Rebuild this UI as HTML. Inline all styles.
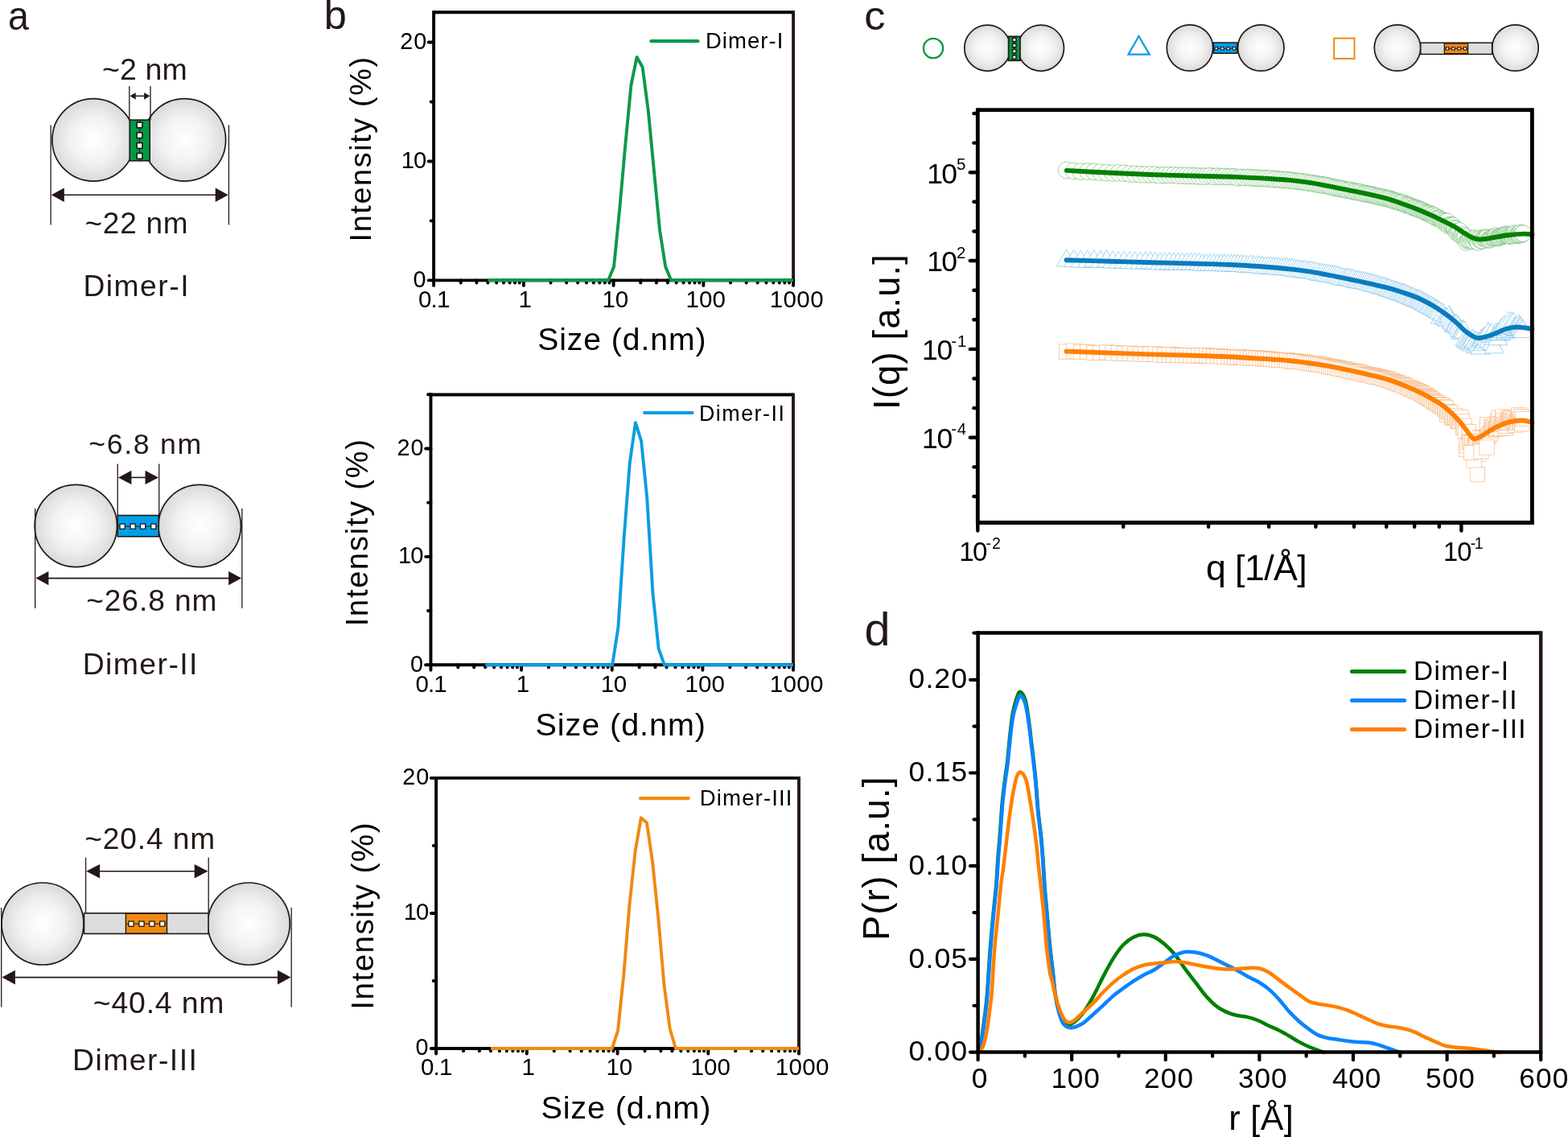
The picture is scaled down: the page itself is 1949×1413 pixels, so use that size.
<!DOCTYPE html><html><head><meta charset="utf-8"><title>Figure</title><style>html,body{margin:0;padding:0;background:#fff;width:1949px;height:1413px;overflow:hidden}text{font-family:"Liberation Sans",Arial,sans-serif;font-kerning:none;white-space:pre}</style></head><body><svg width="1949" height="1413" viewBox="0 0 1949 1413" style="display:block">
<defs><radialGradient id="gball" cx="0.5" cy="0.5" r="0.5"><stop offset="0" stop-color="#ffffff"/><stop offset="0.55" stop-color="#f2f2f2"/><stop offset="1" stop-color="#d9dada"/></radialGradient></defs>
<rect width="1949" height="1413" fill="#fff"/>
<g font-family="Liberation Sans, Arial, sans-serif" style="font-kerning:none">
<text transform="translate(10.12,36.5) scale(0.9238,1)" x="0" y="0" font-size="50.36" fill="#231815">a</text>
<circle cx="116.1" cy="173.9" r="51.2" fill="url(#gball)" stroke="#231815" stroke-width="1.7"/>
<circle cx="229.4" cy="173.9" r="51.2" fill="url(#gball)" stroke="#231815" stroke-width="1.7"/>
<rect x="161.2" y="149.1" width="25" height="50.7" fill="#009a44" stroke="#231815" stroke-width="1.6"/>
<line x1="173.5" y1="148.6" x2="173.5" y2="200.7" stroke="#231815" stroke-width="1" stroke-linecap="butt"/>
<rect x="170.1" y="152" width="6.8" height="6.8" fill="#fff" stroke="#231815" stroke-width="1.6"/>
<rect x="170.1" y="164.8" width="6.8" height="6.8" fill="#fff" stroke="#231815" stroke-width="1.6"/>
<rect x="170.1" y="177.6" width="6.8" height="6.8" fill="#fff" stroke="#231815" stroke-width="1.6"/>
<rect x="170.1" y="190.5" width="6.8" height="6.8" fill="#fff" stroke="#231815" stroke-width="1.6"/>
<line x1="63.1" y1="155.4" x2="63.1" y2="279.4" stroke="#231815" stroke-width="1.3" stroke-linecap="butt"/>
<line x1="284.4" y1="155.4" x2="284.4" y2="279.4" stroke="#231815" stroke-width="1.3" stroke-linecap="butt"/>
<line x1="76.6" y1="242.2" x2="270.9" y2="242.2" stroke="#231815" stroke-width="1.6" stroke-linecap="butt"/>
<path d="M63.8,242.2 L79.8,233.4 L79.8,251 Z" fill="#231815"/>
<path d="M283.7,242.2 L267.7,233.4 L267.7,251 Z" fill="#231815"/>
<line x1="160.8" y1="107" x2="160.8" y2="149" stroke="#231815" stroke-width="1.3" stroke-linecap="butt"/>
<line x1="187" y1="107" x2="187" y2="149" stroke="#231815" stroke-width="1.3" stroke-linecap="butt"/>
<line x1="167.26" y1="119.3" x2="180.54" y2="119.3" stroke="#231815" stroke-width="1.5" stroke-linecap="butt"/>
<path d="M161.5,119.3 L168.7,114.9 L168.7,123.7 Z" fill="#231815"/>
<path d="M186.3,119.3 L179.1,114.9 L179.1,123.7 Z" fill="#231815"/>
<text x="127.01" y="98.8" font-size="37.52" letter-spacing="0.13" fill="#231815">~2 nm</text>
<text x="105.54" y="289.8" font-size="36.95" letter-spacing="0.74" fill="#231815">~22 nm</text>
<text x="103.45" y="367.9" font-size="37.21" letter-spacing="1.52" fill="#231815">Dimer-I</text>
<circle cx="94.3" cy="653.5" r="51.2" fill="url(#gball)" stroke="#231815" stroke-width="1.7"/>
<circle cx="248.2" cy="653.5" r="51.2" fill="url(#gball)" stroke="#231815" stroke-width="1.7"/>
<rect x="146.2" y="640.5" width="51.1" height="26.3" fill="#00a0e9" stroke="#231815" stroke-width="1.6"/>
<line x1="147" y1="654.2" x2="196.5" y2="654.2" stroke="#231815" stroke-width="1" stroke-linecap="butt"/>
<rect x="149" y="651.1" width="6.2" height="6.2" fill="#fff" stroke="#231815" stroke-width="1.3"/>
<rect x="162" y="651.1" width="6.2" height="6.2" fill="#fff" stroke="#231815" stroke-width="1.3"/>
<rect x="174.5" y="651.1" width="6.2" height="6.2" fill="#fff" stroke="#231815" stroke-width="1.3"/>
<rect x="187.7" y="651.1" width="6.2" height="6.2" fill="#fff" stroke="#231815" stroke-width="1.3"/>
<line x1="43.7" y1="631.9" x2="43.7" y2="755.9" stroke="#231815" stroke-width="1.3" stroke-linecap="butt"/>
<line x1="300.8" y1="631.9" x2="300.8" y2="755.9" stroke="#231815" stroke-width="1.3" stroke-linecap="butt"/>
<line x1="57.2" y1="718.6" x2="287.3" y2="718.6" stroke="#231815" stroke-width="1.6" stroke-linecap="butt"/>
<path d="M44.4,718.6 L60.4,709.9 L60.4,727.3 Z" fill="#231815"/>
<path d="M300.1,718.6 L284.1,709.9 L284.1,727.3 Z" fill="#231815"/>
<line x1="146.2" y1="576.6" x2="146.2" y2="640" stroke="#231815" stroke-width="1.3" stroke-linecap="butt"/>
<line x1="197.7" y1="576.6" x2="197.7" y2="640" stroke="#231815" stroke-width="1.3" stroke-linecap="butt"/>
<line x1="160.1" y1="593.4" x2="183.8" y2="593.4" stroke="#231815" stroke-width="1.6" stroke-linecap="butt"/>
<path d="M146.9,593.4 L163.4,584.7 L163.4,602.1 Z" fill="#231815"/>
<path d="M197,593.4 L180.5,584.7 L180.5,602.1 Z" fill="#231815"/>
<text x="110.3" y="563.8" font-size="35.66" letter-spacing="1.67" fill="#231815">~6.8 nm</text>
<text x="107.13" y="759" font-size="37.09" letter-spacing="0.96" fill="#231815">~26.8 nm</text>
<text x="102.64" y="838" font-size="37.36" letter-spacing="1.43" fill="#231815">Dimer-II</text>
<circle cx="53" cy="1148" r="51" fill="url(#gball)" stroke="#231815" stroke-width="1.7"/>
<circle cx="309.3" cy="1148" r="51" fill="url(#gball)" stroke="#231815" stroke-width="1.7"/>
<rect x="104.5" y="1134.9" width="154.5" height="25.5" fill="#dcdddd" stroke="#231815" stroke-width="1.6"/>
<rect x="156.4" y="1135.3" width="51.1" height="24.7" fill="#ee8a10" stroke="#231815" stroke-width="1.4"/>
<line x1="157.2" y1="1148.1" x2="206.7" y2="1148.1" stroke="#231815" stroke-width="1" stroke-linecap="butt"/>
<rect x="159.9" y="1145" width="6.2" height="6.2" fill="#fff" stroke="#231815" stroke-width="1.3"/>
<rect x="172.9" y="1145" width="6.2" height="6.2" fill="#fff" stroke="#231815" stroke-width="1.3"/>
<rect x="185.8" y="1145" width="6.2" height="6.2" fill="#fff" stroke="#231815" stroke-width="1.3"/>
<rect x="198.7" y="1145" width="6.2" height="6.2" fill="#fff" stroke="#231815" stroke-width="1.3"/>
<line x1="1.7" y1="1128" x2="1.7" y2="1251.4" stroke="#231815" stroke-width="1.3" stroke-linecap="butt"/>
<line x1="362.2" y1="1128" x2="362.2" y2="1251.4" stroke="#231815" stroke-width="1.3" stroke-linecap="butt"/>
<line x1="15.6" y1="1214.6" x2="348.3" y2="1214.6" stroke="#231815" stroke-width="1.6" stroke-linecap="butt"/>
<path d="M2.4,1214.6 L18.9,1205.8 L18.9,1223.4 Z" fill="#231815"/>
<path d="M361.5,1214.6 L345,1205.8 L345,1223.4 Z" fill="#231815"/>
<line x1="106.6" y1="1065.8" x2="106.6" y2="1134" stroke="#231815" stroke-width="1.3" stroke-linecap="butt"/>
<line x1="259.2" y1="1065.8" x2="259.2" y2="1134" stroke="#231815" stroke-width="1.3" stroke-linecap="butt"/>
<line x1="120.74" y1="1082.7" x2="245.06" y2="1082.7" stroke="#231815" stroke-width="1.6" stroke-linecap="butt"/>
<path d="M107.3,1082.7 L124.1,1073.9 L124.1,1091.5 Z" fill="#231815"/>
<path d="M258.5,1082.7 L241.7,1073.9 L241.7,1091.5 Z" fill="#231815"/>
<text x="105.23" y="1055.1" font-size="37.09" letter-spacing="0.9" fill="#231815">~20.4 nm</text>
<text x="115.82" y="1259.3" font-size="37.36" letter-spacing="0.82" fill="#231815">~40.4 nm</text>
<text x="89.94" y="1329.7" font-size="37.36" letter-spacing="1.47" fill="#231815">Dimer-III</text>
<text transform="translate(402.85,35.7) scale(1.0104,1)" x="0" y="0" font-size="49.96" fill="#231815">b</text>
<line x1="539.1" y1="15.3" x2="986.1" y2="15.3" stroke="#000000" stroke-width="3.9" stroke-linecap="butt"/>
<line x1="986.1" y1="13.35" x2="986.1" y2="350.35" stroke="#231815" stroke-width="3.9" stroke-linecap="butt"/>
<line x1="539.1" y1="348.4" x2="532.8" y2="348.4" stroke="#000000" stroke-width="3.9" stroke-linecap="round"/>
<line x1="539.1" y1="274.42" x2="535.7" y2="274.42" stroke="#000000" stroke-width="3.9" stroke-linecap="round"/>
<line x1="539.1" y1="200.45" x2="532.8" y2="200.45" stroke="#000000" stroke-width="3.9" stroke-linecap="round"/>
<line x1="539.1" y1="126.47" x2="535.7" y2="126.47" stroke="#000000" stroke-width="3.9" stroke-linecap="round"/>
<line x1="539.1" y1="52.5" x2="532.8" y2="52.5" stroke="#000000" stroke-width="3.9" stroke-linecap="round"/>
<line x1="539.1" y1="348.4" x2="539.1" y2="354.9" stroke="#000000" stroke-width="3.9" stroke-linecap="round"/>
<line x1="572.74" y1="348.4" x2="572.74" y2="351.6" stroke="#000000" stroke-width="3.9" stroke-linecap="round"/>
<line x1="592.42" y1="348.4" x2="592.42" y2="351.6" stroke="#000000" stroke-width="3.9" stroke-linecap="round"/>
<line x1="606.38" y1="348.4" x2="606.38" y2="351.6" stroke="#000000" stroke-width="3.9" stroke-linecap="round"/>
<line x1="617.21" y1="348.4" x2="617.21" y2="351.6" stroke="#000000" stroke-width="3.9" stroke-linecap="round"/>
<line x1="626.06" y1="348.4" x2="626.06" y2="351.6" stroke="#000000" stroke-width="3.9" stroke-linecap="round"/>
<line x1="633.54" y1="348.4" x2="633.54" y2="351.6" stroke="#000000" stroke-width="3.9" stroke-linecap="round"/>
<line x1="640.02" y1="348.4" x2="640.02" y2="351.6" stroke="#000000" stroke-width="3.9" stroke-linecap="round"/>
<line x1="645.74" y1="348.4" x2="645.74" y2="351.6" stroke="#000000" stroke-width="3.9" stroke-linecap="round"/>
<line x1="650.85" y1="348.4" x2="650.85" y2="354.9" stroke="#000000" stroke-width="3.9" stroke-linecap="round"/>
<line x1="684.49" y1="348.4" x2="684.49" y2="351.6" stroke="#000000" stroke-width="3.9" stroke-linecap="round"/>
<line x1="704.17" y1="348.4" x2="704.17" y2="351.6" stroke="#000000" stroke-width="3.9" stroke-linecap="round"/>
<line x1="718.13" y1="348.4" x2="718.13" y2="351.6" stroke="#000000" stroke-width="3.9" stroke-linecap="round"/>
<line x1="728.96" y1="348.4" x2="728.96" y2="351.6" stroke="#000000" stroke-width="3.9" stroke-linecap="round"/>
<line x1="737.81" y1="348.4" x2="737.81" y2="351.6" stroke="#000000" stroke-width="3.9" stroke-linecap="round"/>
<line x1="745.29" y1="348.4" x2="745.29" y2="351.6" stroke="#000000" stroke-width="3.9" stroke-linecap="round"/>
<line x1="751.77" y1="348.4" x2="751.77" y2="351.6" stroke="#000000" stroke-width="3.9" stroke-linecap="round"/>
<line x1="757.49" y1="348.4" x2="757.49" y2="351.6" stroke="#000000" stroke-width="3.9" stroke-linecap="round"/>
<line x1="762.6" y1="348.4" x2="762.6" y2="354.9" stroke="#000000" stroke-width="3.9" stroke-linecap="round"/>
<line x1="796.24" y1="348.4" x2="796.24" y2="351.6" stroke="#000000" stroke-width="3.9" stroke-linecap="round"/>
<line x1="815.92" y1="348.4" x2="815.92" y2="351.6" stroke="#000000" stroke-width="3.9" stroke-linecap="round"/>
<line x1="829.88" y1="348.4" x2="829.88" y2="351.6" stroke="#000000" stroke-width="3.9" stroke-linecap="round"/>
<line x1="840.71" y1="348.4" x2="840.71" y2="351.6" stroke="#000000" stroke-width="3.9" stroke-linecap="round"/>
<line x1="849.56" y1="348.4" x2="849.56" y2="351.6" stroke="#000000" stroke-width="3.9" stroke-linecap="round"/>
<line x1="857.04" y1="348.4" x2="857.04" y2="351.6" stroke="#000000" stroke-width="3.9" stroke-linecap="round"/>
<line x1="863.52" y1="348.4" x2="863.52" y2="351.6" stroke="#000000" stroke-width="3.9" stroke-linecap="round"/>
<line x1="869.24" y1="348.4" x2="869.24" y2="351.6" stroke="#000000" stroke-width="3.9" stroke-linecap="round"/>
<line x1="874.35" y1="348.4" x2="874.35" y2="354.9" stroke="#000000" stroke-width="3.9" stroke-linecap="round"/>
<line x1="907.99" y1="348.4" x2="907.99" y2="351.6" stroke="#000000" stroke-width="3.9" stroke-linecap="round"/>
<line x1="927.67" y1="348.4" x2="927.67" y2="351.6" stroke="#000000" stroke-width="3.9" stroke-linecap="round"/>
<line x1="941.63" y1="348.4" x2="941.63" y2="351.6" stroke="#000000" stroke-width="3.9" stroke-linecap="round"/>
<line x1="952.46" y1="348.4" x2="952.46" y2="351.6" stroke="#000000" stroke-width="3.9" stroke-linecap="round"/>
<line x1="961.31" y1="348.4" x2="961.31" y2="351.6" stroke="#000000" stroke-width="3.9" stroke-linecap="round"/>
<line x1="968.79" y1="348.4" x2="968.79" y2="351.6" stroke="#000000" stroke-width="3.9" stroke-linecap="round"/>
<line x1="975.27" y1="348.4" x2="975.27" y2="351.6" stroke="#000000" stroke-width="3.9" stroke-linecap="round"/>
<line x1="980.99" y1="348.4" x2="980.99" y2="351.6" stroke="#000000" stroke-width="3.9" stroke-linecap="round"/>
<line x1="986.1" y1="348.4" x2="986.1" y2="354.9" stroke="#000000" stroke-width="3.9" stroke-linecap="round"/>
<line x1="539.1" y1="348.4" x2="986.1" y2="348.4" stroke="#000000" stroke-width="3.9" stroke-linecap="butt"/>
<line x1="539.1" y1="13.35" x2="539.1" y2="348.4" stroke="#000000" stroke-width="3.9" stroke-linecap="butt"/>
<path d="M606.38,348.4 L613.5,348.4 L620.63,348.4 L627.75,348.4 L634.87,348.4 L641.99,348.4 L649.12,348.4 L656.24,348.4 L663.36,348.4 L670.48,348.4 L677.61,348.4 L684.73,348.4 L691.85,348.4 L698.98,348.4 L706.1,348.4 L713.22,348.4 L720.34,348.4 L727.47,348.4 L734.59,348.4 L741.71,348.4 L748.84,348.4 L755.96,348.4 L763.08,331.39 L770.2,259.63 L777.33,179.74 L784.45,105.76 L791.57,70.99 L798.69,83.57 L805.82,138.31 L812.94,212.29 L820.06,286.26 L827.19,331.39 L834.31,348.4 L841.43,348.4 L848.55,348.4 L855.68,348.4 L862.8,348.4 L869.92,348.4 L877.04,348.4 L884.17,348.4 L891.29,348.4 L898.41,348.4 L905.54,348.4 L912.66,348.4 L919.78,348.4 L926.9,348.4 L934.03,348.4 L941.15,348.4 L948.27,348.4 L955.39,348.4 L962.52,348.4 L969.64,348.4 L976.76,348.4 L983.89,348.4 L986.1,348.4" fill="none" stroke="#0a9a48" stroke-width="3.9" stroke-linejoin="round" stroke-linecap="butt"/>
<line x1="809.3" y1="51.1" x2="867.6" y2="51.1" stroke="#0a9a48" stroke-width="4.1" stroke-linecap="round"/>
<text x="876.95" y="60" font-size="27.47" letter-spacing="1.06" fill="#000000">Dimer-I</text>
<text x="497.15" y="60.95" font-size="28.79" letter-spacing="1.05" fill="#000000">20</text>
<text x="498.77" y="208.9" font-size="29.22" letter-spacing="-1.03" fill="#000000">10</text>
<text x="513.58" y="356.85" font-size="28.79" letter-spacing="0" fill="#000000">0</text>
<text x="520.05" y="381.7" font-size="29.51" letter-spacing="-0.86" fill="#000000">0.1</text>
<text x="644.55" y="381.7" font-size="29.51" letter-spacing="0" fill="#000000">1</text>
<text x="748.55" y="381.7" font-size="29.51" letter-spacing="-0.22" fill="#000000">10</text>
<text x="852.45" y="381.7" font-size="29.51" letter-spacing="0.14" fill="#000000">100</text>
<text x="956.75" y="381.7" font-size="29.51" letter-spacing="0.39" fill="#000000">1000</text>
<text transform="rotate(-90)" x="-300.49" y="461.3" font-size="37.79" letter-spacing="1.63" fill="#000000">Intensity (%)</text>
<text x="668.22" y="434.9" font-size="39.1" letter-spacing="0.94" fill="#000000">Size (d.nm)</text>
<line x1="535.45" y1="490.5" x2="986" y2="490.5" stroke="#000000" stroke-width="3.9" stroke-linecap="butt"/>
<line x1="986" y1="488.55" x2="986" y2="828.15" stroke="#231815" stroke-width="3.9" stroke-linecap="butt"/>
<line x1="535.45" y1="826.2" x2="529.15" y2="826.2" stroke="#000000" stroke-width="3.9" stroke-linecap="round"/>
<line x1="535.45" y1="759.03" x2="532.05" y2="759.03" stroke="#000000" stroke-width="3.9" stroke-linecap="round"/>
<line x1="535.45" y1="691.85" x2="529.15" y2="691.85" stroke="#000000" stroke-width="3.9" stroke-linecap="round"/>
<line x1="535.45" y1="624.67" x2="532.05" y2="624.67" stroke="#000000" stroke-width="3.9" stroke-linecap="round"/>
<line x1="535.45" y1="557.5" x2="529.15" y2="557.5" stroke="#000000" stroke-width="3.9" stroke-linecap="round"/>
<line x1="535.45" y1="490.32" x2="532.05" y2="490.32" stroke="#000000" stroke-width="3.9" stroke-linecap="round"/>
<line x1="535.45" y1="826.2" x2="535.45" y2="832.7" stroke="#000000" stroke-width="3.9" stroke-linecap="round"/>
<line x1="569.36" y1="826.2" x2="569.36" y2="829.4" stroke="#000000" stroke-width="3.9" stroke-linecap="round"/>
<line x1="589.19" y1="826.2" x2="589.19" y2="829.4" stroke="#000000" stroke-width="3.9" stroke-linecap="round"/>
<line x1="603.26" y1="826.2" x2="603.26" y2="829.4" stroke="#000000" stroke-width="3.9" stroke-linecap="round"/>
<line x1="614.18" y1="826.2" x2="614.18" y2="829.4" stroke="#000000" stroke-width="3.9" stroke-linecap="round"/>
<line x1="623.1" y1="826.2" x2="623.1" y2="829.4" stroke="#000000" stroke-width="3.9" stroke-linecap="round"/>
<line x1="630.64" y1="826.2" x2="630.64" y2="829.4" stroke="#000000" stroke-width="3.9" stroke-linecap="round"/>
<line x1="637.17" y1="826.2" x2="637.17" y2="829.4" stroke="#000000" stroke-width="3.9" stroke-linecap="round"/>
<line x1="642.93" y1="826.2" x2="642.93" y2="829.4" stroke="#000000" stroke-width="3.9" stroke-linecap="round"/>
<line x1="648.09" y1="826.2" x2="648.09" y2="832.7" stroke="#000000" stroke-width="3.9" stroke-linecap="round"/>
<line x1="681.99" y1="826.2" x2="681.99" y2="829.4" stroke="#000000" stroke-width="3.9" stroke-linecap="round"/>
<line x1="701.83" y1="826.2" x2="701.83" y2="829.4" stroke="#000000" stroke-width="3.9" stroke-linecap="round"/>
<line x1="715.9" y1="826.2" x2="715.9" y2="829.4" stroke="#000000" stroke-width="3.9" stroke-linecap="round"/>
<line x1="726.82" y1="826.2" x2="726.82" y2="829.4" stroke="#000000" stroke-width="3.9" stroke-linecap="round"/>
<line x1="735.74" y1="826.2" x2="735.74" y2="829.4" stroke="#000000" stroke-width="3.9" stroke-linecap="round"/>
<line x1="743.28" y1="826.2" x2="743.28" y2="829.4" stroke="#000000" stroke-width="3.9" stroke-linecap="round"/>
<line x1="749.81" y1="826.2" x2="749.81" y2="829.4" stroke="#000000" stroke-width="3.9" stroke-linecap="round"/>
<line x1="755.57" y1="826.2" x2="755.57" y2="829.4" stroke="#000000" stroke-width="3.9" stroke-linecap="round"/>
<line x1="760.73" y1="826.2" x2="760.73" y2="832.7" stroke="#000000" stroke-width="3.9" stroke-linecap="round"/>
<line x1="794.63" y1="826.2" x2="794.63" y2="829.4" stroke="#000000" stroke-width="3.9" stroke-linecap="round"/>
<line x1="814.47" y1="826.2" x2="814.47" y2="829.4" stroke="#000000" stroke-width="3.9" stroke-linecap="round"/>
<line x1="828.54" y1="826.2" x2="828.54" y2="829.4" stroke="#000000" stroke-width="3.9" stroke-linecap="round"/>
<line x1="839.46" y1="826.2" x2="839.46" y2="829.4" stroke="#000000" stroke-width="3.9" stroke-linecap="round"/>
<line x1="848.37" y1="826.2" x2="848.37" y2="829.4" stroke="#000000" stroke-width="3.9" stroke-linecap="round"/>
<line x1="855.91" y1="826.2" x2="855.91" y2="829.4" stroke="#000000" stroke-width="3.9" stroke-linecap="round"/>
<line x1="862.45" y1="826.2" x2="862.45" y2="829.4" stroke="#000000" stroke-width="3.9" stroke-linecap="round"/>
<line x1="868.21" y1="826.2" x2="868.21" y2="829.4" stroke="#000000" stroke-width="3.9" stroke-linecap="round"/>
<line x1="873.36" y1="826.2" x2="873.36" y2="832.7" stroke="#000000" stroke-width="3.9" stroke-linecap="round"/>
<line x1="907.27" y1="826.2" x2="907.27" y2="829.4" stroke="#000000" stroke-width="3.9" stroke-linecap="round"/>
<line x1="927.1" y1="826.2" x2="927.1" y2="829.4" stroke="#000000" stroke-width="3.9" stroke-linecap="round"/>
<line x1="941.18" y1="826.2" x2="941.18" y2="829.4" stroke="#000000" stroke-width="3.9" stroke-linecap="round"/>
<line x1="952.09" y1="826.2" x2="952.09" y2="829.4" stroke="#000000" stroke-width="3.9" stroke-linecap="round"/>
<line x1="961.01" y1="826.2" x2="961.01" y2="829.4" stroke="#000000" stroke-width="3.9" stroke-linecap="round"/>
<line x1="968.55" y1="826.2" x2="968.55" y2="829.4" stroke="#000000" stroke-width="3.9" stroke-linecap="round"/>
<line x1="975.08" y1="826.2" x2="975.08" y2="829.4" stroke="#000000" stroke-width="3.9" stroke-linecap="round"/>
<line x1="980.85" y1="826.2" x2="980.85" y2="829.4" stroke="#000000" stroke-width="3.9" stroke-linecap="round"/>
<line x1="986" y1="826.2" x2="986" y2="832.7" stroke="#000000" stroke-width="3.9" stroke-linecap="round"/>
<line x1="535.45" y1="826.2" x2="986" y2="826.2" stroke="#000000" stroke-width="3.9" stroke-linecap="butt"/>
<line x1="535.45" y1="488.55" x2="535.45" y2="826.2" stroke="#000000" stroke-width="3.9" stroke-linecap="butt"/>
<path d="M603.26,826.2 L610.44,826.2 L617.62,826.2 L624.8,826.2 L631.98,826.2 L639.16,826.2 L646.34,826.2 L653.52,826.2 L660.7,826.2 L667.88,826.2 L675.06,826.2 L682.24,826.2 L689.42,826.2 L696.6,826.2 L703.77,826.2 L710.95,826.2 L718.13,826.2 L725.31,826.2 L732.49,826.2 L739.67,826.2 L746.85,826.2 L754.03,826.2 L761.21,826.2 L768.39,779.85 L775.57,669.01 L782.75,575.64 L789.93,525.26 L797.11,548.1 L804.29,619.3 L811.46,737.53 L818.64,806.05 L825.82,826.2 L833,826.2 L840.18,826.2 L847.36,826.2 L854.54,826.2 L861.72,826.2 L868.9,826.2 L876.08,826.2 L883.26,826.2 L890.44,826.2 L897.62,826.2 L904.8,826.2 L911.98,826.2 L919.15,826.2 L926.33,826.2 L933.51,826.2 L940.69,826.2 L947.87,826.2 L955.05,826.2 L962.23,826.2 L969.41,826.2 L976.59,826.2 L983.77,826.2 L986,826.2" fill="none" stroke="#0a9ee0" stroke-width="3.9" stroke-linejoin="round" stroke-linecap="butt"/>
<line x1="801" y1="513" x2="860.6" y2="513" stroke="#0a9ee0" stroke-width="4.1" stroke-linecap="round"/>
<text x="868.89" y="522.7" font-size="26.89" letter-spacing="1.5" fill="#000000">Dimer-II</text>
<text x="493.5" y="565.95" font-size="28.79" letter-spacing="1.05" fill="#000000">20</text>
<text x="495.12" y="700.3" font-size="29.22" letter-spacing="-1.03" fill="#000000">10</text>
<text x="509.93" y="834.65" font-size="28.79" letter-spacing="0" fill="#000000">0</text>
<text x="516.4" y="859.5" font-size="29.51" letter-spacing="-0.86" fill="#000000">0.1</text>
<text x="641.79" y="859.5" font-size="29.51" letter-spacing="0" fill="#000000">1</text>
<text x="746.68" y="859.5" font-size="29.51" letter-spacing="-0.22" fill="#000000">10</text>
<text x="851.46" y="859.5" font-size="29.51" letter-spacing="0.14" fill="#000000">100</text>
<text x="956.65" y="859.5" font-size="29.51" letter-spacing="0.39" fill="#000000">1000</text>
<text transform="rotate(-90)" x="-778.3" y="456.8" font-size="37.94" letter-spacing="1.79" fill="#000000">Intensity (%)</text>
<text x="665.51" y="913.6" font-size="39.53" letter-spacing="0.94" fill="#000000">Size (d.nm)</text>
<line x1="542.1" y1="966.9" x2="993" y2="966.9" stroke="#000000" stroke-width="3.9" stroke-linecap="butt"/>
<line x1="993" y1="964.95" x2="993" y2="1304.95" stroke="#231815" stroke-width="3.9" stroke-linecap="butt"/>
<line x1="542.1" y1="1303" x2="535.8" y2="1303" stroke="#000000" stroke-width="3.9" stroke-linecap="round"/>
<line x1="542.1" y1="1218.97" x2="538.7" y2="1218.97" stroke="#000000" stroke-width="3.9" stroke-linecap="round"/>
<line x1="542.1" y1="1134.95" x2="535.8" y2="1134.95" stroke="#000000" stroke-width="3.9" stroke-linecap="round"/>
<line x1="542.1" y1="1050.92" x2="538.7" y2="1050.92" stroke="#000000" stroke-width="3.9" stroke-linecap="round"/>
<line x1="542.1" y1="966.9" x2="535.8" y2="966.9" stroke="#000000" stroke-width="3.9" stroke-linecap="round"/>
<line x1="542.1" y1="1303" x2="542.1" y2="1309.5" stroke="#000000" stroke-width="3.9" stroke-linecap="round"/>
<line x1="576.03" y1="1303" x2="576.03" y2="1306.2" stroke="#000000" stroke-width="3.9" stroke-linecap="round"/>
<line x1="595.88" y1="1303" x2="595.88" y2="1306.2" stroke="#000000" stroke-width="3.9" stroke-linecap="round"/>
<line x1="609.97" y1="1303" x2="609.97" y2="1306.2" stroke="#000000" stroke-width="3.9" stroke-linecap="round"/>
<line x1="620.89" y1="1303" x2="620.89" y2="1306.2" stroke="#000000" stroke-width="3.9" stroke-linecap="round"/>
<line x1="629.82" y1="1303" x2="629.82" y2="1306.2" stroke="#000000" stroke-width="3.9" stroke-linecap="round"/>
<line x1="637.36" y1="1303" x2="637.36" y2="1306.2" stroke="#000000" stroke-width="3.9" stroke-linecap="round"/>
<line x1="643.9" y1="1303" x2="643.9" y2="1306.2" stroke="#000000" stroke-width="3.9" stroke-linecap="round"/>
<line x1="649.67" y1="1303" x2="649.67" y2="1306.2" stroke="#000000" stroke-width="3.9" stroke-linecap="round"/>
<line x1="654.83" y1="1303" x2="654.83" y2="1309.5" stroke="#000000" stroke-width="3.9" stroke-linecap="round"/>
<line x1="688.76" y1="1303" x2="688.76" y2="1306.2" stroke="#000000" stroke-width="3.9" stroke-linecap="round"/>
<line x1="708.61" y1="1303" x2="708.61" y2="1306.2" stroke="#000000" stroke-width="3.9" stroke-linecap="round"/>
<line x1="722.69" y1="1303" x2="722.69" y2="1306.2" stroke="#000000" stroke-width="3.9" stroke-linecap="round"/>
<line x1="733.62" y1="1303" x2="733.62" y2="1306.2" stroke="#000000" stroke-width="3.9" stroke-linecap="round"/>
<line x1="742.54" y1="1303" x2="742.54" y2="1306.2" stroke="#000000" stroke-width="3.9" stroke-linecap="round"/>
<line x1="750.09" y1="1303" x2="750.09" y2="1306.2" stroke="#000000" stroke-width="3.9" stroke-linecap="round"/>
<line x1="756.63" y1="1303" x2="756.63" y2="1306.2" stroke="#000000" stroke-width="3.9" stroke-linecap="round"/>
<line x1="762.39" y1="1303" x2="762.39" y2="1306.2" stroke="#000000" stroke-width="3.9" stroke-linecap="round"/>
<line x1="767.55" y1="1303" x2="767.55" y2="1309.5" stroke="#000000" stroke-width="3.9" stroke-linecap="round"/>
<line x1="801.48" y1="1303" x2="801.48" y2="1306.2" stroke="#000000" stroke-width="3.9" stroke-linecap="round"/>
<line x1="821.33" y1="1303" x2="821.33" y2="1306.2" stroke="#000000" stroke-width="3.9" stroke-linecap="round"/>
<line x1="835.42" y1="1303" x2="835.42" y2="1306.2" stroke="#000000" stroke-width="3.9" stroke-linecap="round"/>
<line x1="846.34" y1="1303" x2="846.34" y2="1306.2" stroke="#000000" stroke-width="3.9" stroke-linecap="round"/>
<line x1="855.27" y1="1303" x2="855.27" y2="1306.2" stroke="#000000" stroke-width="3.9" stroke-linecap="round"/>
<line x1="862.81" y1="1303" x2="862.81" y2="1306.2" stroke="#000000" stroke-width="3.9" stroke-linecap="round"/>
<line x1="869.35" y1="1303" x2="869.35" y2="1306.2" stroke="#000000" stroke-width="3.9" stroke-linecap="round"/>
<line x1="875.12" y1="1303" x2="875.12" y2="1306.2" stroke="#000000" stroke-width="3.9" stroke-linecap="round"/>
<line x1="880.27" y1="1303" x2="880.27" y2="1309.5" stroke="#000000" stroke-width="3.9" stroke-linecap="round"/>
<line x1="914.21" y1="1303" x2="914.21" y2="1306.2" stroke="#000000" stroke-width="3.9" stroke-linecap="round"/>
<line x1="934.06" y1="1303" x2="934.06" y2="1306.2" stroke="#000000" stroke-width="3.9" stroke-linecap="round"/>
<line x1="948.14" y1="1303" x2="948.14" y2="1306.2" stroke="#000000" stroke-width="3.9" stroke-linecap="round"/>
<line x1="959.07" y1="1303" x2="959.07" y2="1306.2" stroke="#000000" stroke-width="3.9" stroke-linecap="round"/>
<line x1="967.99" y1="1303" x2="967.99" y2="1306.2" stroke="#000000" stroke-width="3.9" stroke-linecap="round"/>
<line x1="975.54" y1="1303" x2="975.54" y2="1306.2" stroke="#000000" stroke-width="3.9" stroke-linecap="round"/>
<line x1="982.08" y1="1303" x2="982.08" y2="1306.2" stroke="#000000" stroke-width="3.9" stroke-linecap="round"/>
<line x1="987.84" y1="1303" x2="987.84" y2="1306.2" stroke="#000000" stroke-width="3.9" stroke-linecap="round"/>
<line x1="993" y1="1303" x2="993" y2="1309.5" stroke="#000000" stroke-width="3.9" stroke-linecap="round"/>
<line x1="542.1" y1="1303" x2="993" y2="1303" stroke="#000000" stroke-width="3.9" stroke-linecap="butt"/>
<line x1="542.1" y1="964.95" x2="542.1" y2="1303" stroke="#000000" stroke-width="3.9" stroke-linecap="butt"/>
<path d="M609.97,1303 L617.15,1303 L624.34,1303 L631.52,1303 L638.71,1303 L645.89,1303 L653.08,1303 L660.26,1303 L667.45,1303 L674.63,1303 L681.82,1303 L689,1303 L696.19,1303 L703.37,1303 L710.56,1303 L717.74,1303 L724.93,1303 L732.11,1303 L739.3,1303 L746.48,1303 L753.67,1303 L760.85,1303 L768.03,1280.82 L775.22,1212.25 L782.4,1124.87 L789.59,1058.15 L796.77,1016.31 L803.96,1022.52 L811.14,1071.6 L818.33,1141.67 L825.51,1224.35 L832.7,1278.46 L839.88,1303 L847.07,1303 L854.25,1303 L861.44,1303 L868.62,1303 L875.81,1303 L882.99,1303 L890.18,1303 L897.36,1303 L904.55,1303 L911.73,1303 L918.92,1303 L926.1,1303 L933.29,1303 L940.47,1303 L947.66,1303 L954.84,1303 L962.03,1303 L969.21,1303 L976.4,1303 L983.58,1303 L990.77,1303 L993,1303" fill="none" stroke="#ee8a10" stroke-width="3.9" stroke-linejoin="round" stroke-linecap="butt"/>
<line x1="796" y1="992.1" x2="855.8" y2="992.1" stroke="#ee8a10" stroke-width="4.1" stroke-linecap="round"/>
<text x="869.83" y="1001.1" font-size="27.62" letter-spacing="1.09" fill="#000000">Dimer-III</text>
<text x="500.15" y="975.35" font-size="28.79" letter-spacing="1.05" fill="#000000">20</text>
<text x="501.77" y="1143.4" font-size="29.22" letter-spacing="-1.03" fill="#000000">10</text>
<text x="516.58" y="1311.45" font-size="28.79" letter-spacing="0" fill="#000000">0</text>
<text x="523.05" y="1336.3" font-size="29.51" letter-spacing="-0.86" fill="#000000">0.1</text>
<text x="648.53" y="1336.3" font-size="29.51" letter-spacing="0" fill="#000000">1</text>
<text x="753.5" y="1336.3" font-size="29.51" letter-spacing="-0.22" fill="#000000">10</text>
<text x="858.38" y="1336.3" font-size="29.51" letter-spacing="0.14" fill="#000000">100</text>
<text x="963.65" y="1336.3" font-size="29.51" letter-spacing="0.39" fill="#000000">1000</text>
<text transform="rotate(-90)" x="-1254.68" y="463.7" font-size="38.81" letter-spacing="1.39" fill="#000000">Intensity (%)</text>
<text x="672.4" y="1390" font-size="39.67" letter-spacing="0.83" fill="#000000">Size (d.nm)</text>
<text transform="translate(1074.37,36.6) scale(1.0603,1)" x="0" y="0" font-size="49.43" fill="#231815">c</text>
<circle cx="1160" cy="60" r="12.1" fill="none" stroke="#0a9a48" stroke-width="2.4"/>
<path d="M1415.5,45 L1402.5,67.6 L1428.8,67.6 Z" fill="none" stroke="#0a9ee0" stroke-width="2.2" stroke-linejoin="miter"/>
<rect x="1658.2" y="47.6" width="25.3" height="25.3" fill="none" stroke="#ee8a10" stroke-width="2"/>
<circle cx="1227.4" cy="59.7" r="28.6" fill="url(#gball)" stroke="#231815" stroke-width="1.7"/>
<circle cx="1293.9" cy="59.7" r="28.6" fill="url(#gball)" stroke="#231815" stroke-width="1.7"/>
<rect x="1253.6" y="45.3" width="14.4" height="30" fill="#009a44" stroke="#231815" stroke-width="1.7"/>
<line x1="1260.8" y1="45" x2="1260.8" y2="75.4" stroke="#231815" stroke-width="1" stroke-linecap="butt"/>
<rect x="1258.6" y="47.2" width="4.4" height="4.4" fill="#fff" stroke="#231815" stroke-width="1.5"/>
<rect x="1258.6" y="54.3" width="4.4" height="4.4" fill="#fff" stroke="#231815" stroke-width="1.5"/>
<rect x="1258.6" y="61.5" width="4.4" height="4.4" fill="#fff" stroke="#231815" stroke-width="1.5"/>
<rect x="1258.6" y="68.8" width="4.4" height="4.4" fill="#fff" stroke="#231815" stroke-width="1.5"/>
<circle cx="1479" cy="59.5" r="28.7" fill="url(#gball)" stroke="#231815" stroke-width="1.7"/>
<circle cx="1567.3" cy="59.5" r="28.7" fill="url(#gball)" stroke="#231815" stroke-width="1.7"/>
<rect x="1508.4" y="53" width="29.5" height="13.2" fill="#00a0e9" stroke="#231815" stroke-width="1.5"/>
<line x1="1508.8" y1="60.2" x2="1537.5" y2="60.2" stroke="#231815" stroke-width="1" stroke-linecap="butt"/>
<rect x="1510.2" y="58.5" width="3.4" height="3.4" fill="#fff" stroke="#231815" stroke-width="1.1"/>
<rect x="1517.6" y="58.5" width="3.4" height="3.4" fill="#fff" stroke="#231815" stroke-width="1.1"/>
<rect x="1525" y="58.5" width="3.4" height="3.4" fill="#fff" stroke="#231815" stroke-width="1.1"/>
<rect x="1532.3" y="58.5" width="3.4" height="3.4" fill="#fff" stroke="#231815" stroke-width="1.1"/>
<circle cx="1737" cy="59.5" r="28.7" fill="url(#gball)" stroke="#231815" stroke-width="1.7"/>
<circle cx="1883.5" cy="59.5" r="28.7" fill="url(#gball)" stroke="#231815" stroke-width="1.7"/>
<rect x="1765.8" y="53.2" width="88.8" height="14.2" fill="#dcdddd" stroke="#231815" stroke-width="1.5"/>
<rect x="1795.4" y="54" width="29.2" height="12.6" fill="#ee8a10" stroke="#231815" stroke-width="1.3"/>
<line x1="1795.8" y1="60.3" x2="1824.2" y2="60.3" stroke="#231815" stroke-width="1" stroke-linecap="butt"/>
<rect x="1797.3" y="58.6" width="3.4" height="3.4" fill="#fff" stroke="#231815" stroke-width="1.1"/>
<rect x="1804.7" y="58.6" width="3.4" height="3.4" fill="#fff" stroke="#231815" stroke-width="1.1"/>
<rect x="1812" y="58.6" width="3.4" height="3.4" fill="#fff" stroke="#231815" stroke-width="1.1"/>
<rect x="1819.3" y="58.6" width="3.4" height="3.4" fill="#fff" stroke="#231815" stroke-width="1.1"/>
<defs><clipPath id="cclip"><rect x="1217" y="138" width="686" height="510"/></clipPath></defs>
<g clip-path="url(#cclip)">
<g fill="#fff" stroke="#62b662" stroke-width="0.6"><circle cx="1325.7" cy="211.59" r="10.3"/><circle cx="1334.7" cy="212.47" r="10.3"/><circle cx="1343.39" cy="213.09" r="10.3"/><circle cx="1351.8" cy="213.16" r="10.3"/><circle cx="1359.95" cy="213.4" r="10.3"/><circle cx="1367.86" cy="214.13" r="10.3"/><circle cx="1375.53" cy="214.68" r="10.3"/><circle cx="1382.98" cy="215.21" r="10.3"/><circle cx="1390.23" cy="214.95" r="10.3"/><circle cx="1397.28" cy="215.24" r="10.3"/><circle cx="1404.14" cy="216.04" r="10.3"/><circle cx="1410.83" cy="216.28" r="10.3"/><circle cx="1417.35" cy="216.83" r="10.3"/><circle cx="1423.72" cy="216.97" r="10.3"/><circle cx="1429.93" cy="216.97" r="10.3"/><circle cx="1435.99" cy="217.11" r="10.3"/><circle cx="1441.92" cy="218" r="10.3"/><circle cx="1447.72" cy="217.46" r="10.3"/><circle cx="1453.39" cy="217.51" r="10.3"/><circle cx="1458.94" cy="217.58" r="10.3"/><circle cx="1464.38" cy="218.06" r="10.3"/><circle cx="1469.7" cy="218.23" r="10.3"/><circle cx="1474.92" cy="218.26" r="10.3"/><circle cx="1480.04" cy="218.49" r="10.3"/><circle cx="1485.05" cy="218.72" r="10.3"/><circle cx="1489.98" cy="218.97" r="10.3"/><circle cx="1494.81" cy="219.19" r="10.3"/><circle cx="1499.55" cy="219.08" r="10.3"/><circle cx="1504.21" cy="218.7" r="10.3"/><circle cx="1508.79" cy="219.43" r="10.3"/><circle cx="1513.29" cy="219.01" r="10.3"/><circle cx="1517.71" cy="219.43" r="10.3"/><circle cx="1522.06" cy="219.21" r="10.3"/><circle cx="1526.34" cy="219.68" r="10.3"/><circle cx="1530.55" cy="219.59" r="10.3"/><circle cx="1534.69" cy="219.94" r="10.3"/><circle cx="1538.76" cy="220.91" r="10.3"/><circle cx="1542.78" cy="220.27" r="10.3"/><circle cx="1546.73" cy="220.7" r="10.3"/><circle cx="1550.63" cy="220.36" r="10.3"/><circle cx="1554.46" cy="220.81" r="10.3"/><circle cx="1558.25" cy="221.24" r="10.3"/><circle cx="1561.97" cy="221.24" r="10.3"/><circle cx="1565.65" cy="221.55" r="10.3"/><circle cx="1569.27" cy="221.66" r="10.3"/><circle cx="1572.85" cy="221.57" r="10.3"/><circle cx="1576.37" cy="222.14" r="10.3"/><circle cx="1579.85" cy="221.97" r="10.3"/><circle cx="1583.29" cy="222.89" r="10.3"/><circle cx="1586.68" cy="222.55" r="10.3"/><circle cx="1590.02" cy="223.1" r="10.3"/><circle cx="1593.33" cy="223.18" r="10.3"/><circle cx="1596.59" cy="223.66" r="10.3"/><circle cx="1599.81" cy="223.52" r="10.3"/><circle cx="1602.99" cy="224.16" r="10.3"/><circle cx="1606.14" cy="224.27" r="10.3"/><circle cx="1609.24" cy="225" r="10.3"/><circle cx="1612.31" cy="225.22" r="10.3"/><circle cx="1615.35" cy="225.48" r="10.3"/><circle cx="1618.35" cy="225.62" r="10.3"/><circle cx="1621.31" cy="226.37" r="10.3"/><circle cx="1624.24" cy="226.66" r="10.3"/><circle cx="1627.14" cy="227.4" r="10.3"/><circle cx="1630.01" cy="227.39" r="10.3"/><circle cx="1632.85" cy="228.11" r="10.3"/><circle cx="1635.65" cy="228.59" r="10.3"/><circle cx="1638.43" cy="229.01" r="10.3"/><circle cx="1641.18" cy="229.47" r="10.3"/><circle cx="1643.9" cy="229.93" r="10.3"/><circle cx="1646.59" cy="230.21" r="10.3"/><circle cx="1649.25" cy="230.6" r="10.3"/><circle cx="1651.89" cy="231.29" r="10.3"/><circle cx="1654.5" cy="232.07" r="10.3"/><circle cx="1657.08" cy="232.82" r="10.3"/><circle cx="1659.64" cy="233.21" r="10.3"/><circle cx="1662.17" cy="233.75" r="10.3"/><circle cx="1664.68" cy="234.19" r="10.3"/><circle cx="1667.17" cy="234.67" r="10.3"/><circle cx="1669.63" cy="235.04" r="10.3"/><circle cx="1672.07" cy="235.67" r="10.3"/><circle cx="1674.48" cy="236.39" r="10.3"/><circle cx="1676.88" cy="236.33" r="10.3"/><circle cx="1679.25" cy="236.69" r="10.3"/><circle cx="1681.6" cy="237.81" r="10.3"/><circle cx="1683.93" cy="237.83" r="10.3"/><circle cx="1686.24" cy="238.45" r="10.3"/><circle cx="1688.53" cy="238.87" r="10.3"/><circle cx="1690.8" cy="238.8" r="10.3"/><circle cx="1693.05" cy="240.12" r="10.3"/><circle cx="1695.28" cy="240.46" r="10.3"/><circle cx="1697.49" cy="240.56" r="10.3"/><circle cx="1699.69" cy="241.2" r="10.3"/><circle cx="1701.86" cy="241.53" r="10.3"/><circle cx="1704.02" cy="241.76" r="10.3"/><circle cx="1706.16" cy="242.43" r="10.3"/><circle cx="1708.28" cy="243.02" r="10.3"/><circle cx="1710.38" cy="243.67" r="10.3"/><circle cx="1712.47" cy="244.03" r="10.3"/><circle cx="1714.54" cy="244.32" r="10.3"/><circle cx="1716.6" cy="245.09" r="10.3"/><circle cx="1718.64" cy="245" r="10.3"/><circle cx="1720.66" cy="245.82" r="10.3"/><circle cx="1722.67" cy="246.44" r="10.3"/><circle cx="1724.66" cy="246.69" r="10.3"/><circle cx="1726.64" cy="246.92" r="10.3"/><circle cx="1728.6" cy="247.73" r="10.3"/><circle cx="1730.55" cy="248.61" r="10.3"/><circle cx="1732.48" cy="249.27" r="10.3"/><circle cx="1734.4" cy="250.1" r="10.3"/><circle cx="1736.31" cy="250.04" r="10.3"/><circle cx="1738.2" cy="250.87" r="10.3"/><circle cx="1740.07" cy="251.6" r="10.3"/><circle cx="1741.94" cy="251.97" r="10.3"/><circle cx="1743.79" cy="252.02" r="10.3"/><circle cx="1745.63" cy="253.46" r="10.3"/><circle cx="1747.45" cy="254.49" r="10.3"/><circle cx="1749.27" cy="254.81" r="10.3"/><circle cx="1751.07" cy="254.98" r="10.3"/><circle cx="1752.85" cy="255.76" r="10.3"/><circle cx="1754.63" cy="256.56" r="10.3"/><circle cx="1756.39" cy="257.78" r="10.3"/><circle cx="1758.14" cy="257.95" r="10.3"/><circle cx="1759.88" cy="258.47" r="10.3"/><circle cx="1761.61" cy="259.48" r="10.3"/><circle cx="1763.33" cy="259.71" r="10.3"/><circle cx="1765.04" cy="260.88" r="10.3"/><circle cx="1766.73" cy="261.01" r="10.3"/><circle cx="1768.41" cy="261.84" r="10.3"/><circle cx="1770.09" cy="262.91" r="10.3"/><circle cx="1771.75" cy="263.85" r="10.3"/><circle cx="1773.4" cy="264.42" r="10.3"/><circle cx="1775.04" cy="265.1" r="10.3"/><circle cx="1776.67" cy="265.33" r="10.3"/><circle cx="1778.3" cy="266.36" r="10.3"/><circle cx="1779.91" cy="267.14" r="10.3"/><circle cx="1781.51" cy="267.35" r="10.3"/><circle cx="1783.1" cy="269.56" r="10.3"/><circle cx="1784.68" cy="269.1" r="10.3"/><circle cx="1786.25" cy="271.31" r="10.3"/><circle cx="1787.82" cy="271.22" r="10.3"/><circle cx="1789.37" cy="271.5" r="10.3"/><circle cx="1790.91" cy="272.91" r="10.3"/><circle cx="1792.45" cy="274.14" r="10.3"/><circle cx="1793.98" cy="275.54" r="10.3"/><circle cx="1795.49" cy="274.65" r="10.3"/><circle cx="1797" cy="275.83" r="10.3"/><circle cx="1798.5" cy="275.24" r="10.3"/><circle cx="1799.99" cy="280.01" r="10.3"/><circle cx="1801.48" cy="280.76" r="10.3"/><circle cx="1802.95" cy="279.63" r="10.3"/><circle cx="1804.42" cy="280.27" r="10.3"/><circle cx="1805.88" cy="280.37" r="10.3"/><circle cx="1807.33" cy="283.32" r="10.3"/><circle cx="1808.77" cy="284.69" r="10.3"/><circle cx="1810.2" cy="288.66" r="10.3"/><circle cx="1811.63" cy="287.55" r="10.3"/><circle cx="1813.05" cy="287.64" r="10.3"/><circle cx="1814.46" cy="286.86" r="10.3"/><circle cx="1815.86" cy="293.22" r="10.3"/><circle cx="1817.26" cy="292.92" r="10.3"/><circle cx="1818.65" cy="291.77" r="10.3"/><circle cx="1820.03" cy="295.11" r="10.3"/><circle cx="1821.4" cy="293.7" r="10.3"/><circle cx="1822.77" cy="301.11" r="10.3"/><circle cx="1824.13" cy="298.73" r="10.3"/><circle cx="1825.48" cy="298.62" r="10.3"/><circle cx="1826.82" cy="298.15" r="10.3"/><circle cx="1828.16" cy="296.03" r="10.3"/><circle cx="1829.49" cy="298.97" r="10.3"/><circle cx="1830.82" cy="297.05" r="10.3"/><circle cx="1832.14" cy="299.77" r="10.3"/><circle cx="1833.45" cy="296.15" r="10.3"/><circle cx="1834.75" cy="297.69" r="10.3"/><circle cx="1836.05" cy="300.43" r="10.3"/><circle cx="1837.35" cy="300.99" r="10.3"/><circle cx="1838.63" cy="297.13" r="10.3"/><circle cx="1839.91" cy="296.29" r="10.3"/><circle cx="1841.18" cy="299.09" r="10.3"/><circle cx="1842.45" cy="298.76" r="10.3"/><circle cx="1843.71" cy="296.11" r="10.3"/><circle cx="1844.97" cy="296.26" r="10.3"/><circle cx="1846.22" cy="296.06" r="10.3"/><circle cx="1847.46" cy="295.23" r="10.3"/><circle cx="1848.7" cy="295.73" r="10.3"/><circle cx="1849.93" cy="298.1" r="10.3"/><circle cx="1851.15" cy="297.2" r="10.3"/><circle cx="1852.37" cy="297.71" r="10.3"/><circle cx="1853.59" cy="295.77" r="10.3"/><circle cx="1854.79" cy="295.51" r="10.3"/><circle cx="1856" cy="294.61" r="10.3"/><circle cx="1857.19" cy="295.08" r="10.3"/><circle cx="1858.39" cy="293.92" r="10.3"/><circle cx="1859.57" cy="293.34" r="10.3"/><circle cx="1860.75" cy="295.11" r="10.3"/><circle cx="1861.93" cy="295.49" r="10.3"/><circle cx="1863.1" cy="294.81" r="10.3"/><circle cx="1864.27" cy="295" r="10.3"/><circle cx="1865.43" cy="293.93" r="10.3"/><circle cx="1866.58" cy="292.95" r="10.3"/><circle cx="1867.73" cy="293.39" r="10.3"/><circle cx="1868.88" cy="292.82" r="10.3"/><circle cx="1870.02" cy="292.03" r="10.3"/><circle cx="1871.15" cy="291.37" r="10.3"/><circle cx="1872.28" cy="291.33" r="10.3"/><circle cx="1873.4" cy="292.41" r="10.3"/><circle cx="1874.53" cy="292.43" r="10.3"/><circle cx="1875.64" cy="291.83" r="10.3"/><circle cx="1876.75" cy="293.26" r="10.3"/><circle cx="1877.86" cy="292.16" r="10.3"/><circle cx="1878.96" cy="292.39" r="10.3"/><circle cx="1880.06" cy="292.8" r="10.3"/><circle cx="1881.15" cy="291.07" r="10.3"/><circle cx="1882.24" cy="290.05" r="10.3"/><circle cx="1883.32" cy="292.14" r="10.3"/><circle cx="1884.4" cy="290.89" r="10.3"/><circle cx="1885.47" cy="292.39" r="10.3"/><circle cx="1886.54" cy="291.52" r="10.3"/><circle cx="1887.61" cy="291.96" r="10.3"/><circle cx="1888.67" cy="291.67" r="10.3"/><circle cx="1889.72" cy="289.3" r="10.3"/><circle cx="1890.78" cy="291.45" r="10.3"/><circle cx="1891.82" cy="290.24" r="10.3"/><circle cx="1892.87" cy="290.09" r="10.3"/></g>
<g fill="#fff" stroke="#6cb8e5" stroke-width="0.6"><path d="M1325.7,309.91 L1313.5,331.04 L1337.9,331.04 Z"/><path d="M1334.7,310.53 L1322.5,331.67 L1346.9,331.67 Z"/><path d="M1343.39,310.83 L1331.19,331.96 L1355.59,331.96 Z"/><path d="M1351.8,311.11 L1339.6,332.24 L1364,332.24 Z"/><path d="M1359.95,310.55 L1347.75,331.68 L1372.15,331.68 Z"/><path d="M1367.86,311.1 L1355.66,332.23 L1380.06,332.23 Z"/><path d="M1375.53,310.79 L1363.33,331.92 L1387.73,331.92 Z"/><path d="M1382.98,311.69 L1370.78,332.82 L1395.18,332.82 Z"/><path d="M1390.23,312.1 L1378.03,333.23 L1402.43,333.23 Z"/><path d="M1397.28,311.89 L1385.08,333.02 L1409.48,333.02 Z"/><path d="M1404.14,312.38 L1391.94,333.51 L1416.34,333.51 Z"/><path d="M1410.83,312.57 L1398.63,333.7 L1423.03,333.7 Z"/><path d="M1417.35,312.98 L1405.15,334.11 L1429.55,334.11 Z"/><path d="M1423.72,312.61 L1411.52,333.74 L1435.92,333.74 Z"/><path d="M1429.93,312.78 L1417.73,333.91 L1442.13,333.91 Z"/><path d="M1435.99,312.96 L1423.79,334.09 L1448.19,334.09 Z"/><path d="M1441.92,313.86 L1429.72,334.99 L1454.12,334.99 Z"/><path d="M1447.72,313.8 L1435.52,334.94 L1459.92,334.94 Z"/><path d="M1453.39,313.58 L1441.19,334.71 L1465.59,334.71 Z"/><path d="M1458.94,313.83 L1446.74,334.96 L1471.14,334.96 Z"/><path d="M1464.38,313.93 L1452.18,335.06 L1476.58,335.06 Z"/><path d="M1469.7,314.09 L1457.5,335.22 L1481.9,335.22 Z"/><path d="M1474.92,314.09 L1462.72,335.23 L1487.12,335.23 Z"/><path d="M1480.04,314.19 L1467.84,335.32 L1492.24,335.32 Z"/><path d="M1485.05,314.03 L1472.85,335.16 L1497.25,335.16 Z"/><path d="M1489.98,314.34 L1477.78,335.47 L1502.18,335.47 Z"/><path d="M1494.81,315.2 L1482.61,336.33 L1507.01,336.33 Z"/><path d="M1499.55,315.03 L1487.35,336.16 L1511.75,336.16 Z"/><path d="M1504.21,315.06 L1492.01,336.19 L1516.41,336.19 Z"/><path d="M1508.79,315.14 L1496.59,336.27 L1520.99,336.27 Z"/><path d="M1513.29,315.38 L1501.09,336.51 L1525.49,336.51 Z"/><path d="M1517.71,315.62 L1505.51,336.75 L1529.91,336.75 Z"/><path d="M1522.06,315.48 L1509.86,336.61 L1534.26,336.61 Z"/><path d="M1526.34,315.88 L1514.14,337.01 L1538.54,337.01 Z"/><path d="M1530.55,316.04 L1518.35,337.17 L1542.75,337.17 Z"/><path d="M1534.69,315.89 L1522.49,337.02 L1546.89,337.02 Z"/><path d="M1538.76,316.13 L1526.56,337.26 L1550.96,337.26 Z"/><path d="M1542.78,316.32 L1530.58,337.45 L1554.98,337.45 Z"/><path d="M1546.73,316.56 L1534.53,337.69 L1558.93,337.69 Z"/><path d="M1550.63,317.39 L1538.43,338.52 L1562.83,338.52 Z"/><path d="M1554.46,316.67 L1542.26,337.8 L1566.66,337.8 Z"/><path d="M1558.25,317.54 L1546.05,338.67 L1570.45,338.67 Z"/><path d="M1561.97,317.67 L1549.77,338.8 L1574.17,338.8 Z"/><path d="M1565.65,317.91 L1553.45,339.04 L1577.85,339.04 Z"/><path d="M1569.27,318.35 L1557.07,339.49 L1581.47,339.49 Z"/><path d="M1572.85,318.89 L1560.65,340.02 L1585.05,340.02 Z"/><path d="M1576.37,318.81 L1564.17,339.94 L1588.57,339.94 Z"/><path d="M1579.85,318.96 L1567.65,340.09 L1592.05,340.09 Z"/><path d="M1583.29,319.14 L1571.09,340.27 L1595.49,340.27 Z"/><path d="M1586.68,319.62 L1574.48,340.75 L1598.88,340.75 Z"/><path d="M1590.02,320.25 L1577.82,341.39 L1602.22,341.39 Z"/><path d="M1593.33,320.18 L1581.13,341.32 L1605.53,341.32 Z"/><path d="M1596.59,320.28 L1584.39,341.41 L1608.79,341.41 Z"/><path d="M1599.81,320.55 L1587.61,341.69 L1612.01,341.69 Z"/><path d="M1602.99,320.91 L1590.79,342.04 L1615.19,342.04 Z"/><path d="M1606.14,321.22 L1593.94,342.35 L1618.34,342.35 Z"/><path d="M1609.24,322.35 L1597.04,343.48 L1621.44,343.48 Z"/><path d="M1612.31,322.51 L1600.11,343.64 L1624.51,343.64 Z"/><path d="M1615.35,322.71 L1603.15,343.84 L1627.55,343.84 Z"/><path d="M1618.35,323.59 L1606.15,344.72 L1630.55,344.72 Z"/><path d="M1621.31,323.32 L1609.11,344.45 L1633.51,344.45 Z"/><path d="M1624.24,324.1 L1612.04,345.24 L1636.44,345.24 Z"/><path d="M1627.14,324.57 L1614.94,345.7 L1639.34,345.7 Z"/><path d="M1630.01,324.37 L1617.81,345.5 L1642.21,345.5 Z"/><path d="M1632.85,324.87 L1620.65,346 L1645.05,346 Z"/><path d="M1635.65,325.56 L1623.45,346.69 L1647.85,346.69 Z"/><path d="M1638.43,326.61 L1626.23,347.74 L1650.63,347.74 Z"/><path d="M1641.18,327.21 L1628.98,348.34 L1653.38,348.34 Z"/><path d="M1643.9,326.94 L1631.7,348.07 L1656.1,348.07 Z"/><path d="M1646.59,328.1 L1634.39,349.23 L1658.79,349.23 Z"/><path d="M1649.25,328.17 L1637.05,349.3 L1661.45,349.3 Z"/><path d="M1651.89,328.69 L1639.69,349.82 L1664.09,349.82 Z"/><path d="M1654.5,329.16 L1642.3,350.29 L1666.7,350.29 Z"/><path d="M1657.08,329.75 L1644.88,350.88 L1669.28,350.88 Z"/><path d="M1659.64,329.81 L1647.44,350.94 L1671.84,350.94 Z"/><path d="M1662.17,330.56 L1649.97,351.69 L1674.37,351.69 Z"/><path d="M1664.68,330.99 L1652.48,352.12 L1676.88,352.12 Z"/><path d="M1667.17,332 L1654.97,353.13 L1679.37,353.13 Z"/><path d="M1669.63,332.97 L1657.43,354.1 L1681.83,354.1 Z"/><path d="M1672.07,333.66 L1659.87,354.79 L1684.27,354.79 Z"/><path d="M1674.48,333.24 L1662.28,354.37 L1686.68,354.37 Z"/><path d="M1676.88,333.32 L1664.68,354.45 L1689.08,354.45 Z"/><path d="M1679.25,334.21 L1667.05,355.34 L1691.45,355.34 Z"/><path d="M1681.6,334.54 L1669.4,355.67 L1693.8,355.67 Z"/><path d="M1683.93,335.9 L1671.73,357.03 L1696.13,357.03 Z"/><path d="M1686.24,335.96 L1674.04,357.09 L1698.44,357.09 Z"/><path d="M1688.53,336.05 L1676.33,357.18 L1700.73,357.18 Z"/><path d="M1690.8,337.02 L1678.6,358.15 L1703,358.15 Z"/><path d="M1693.05,337.36 L1680.85,358.5 L1705.25,358.5 Z"/><path d="M1695.28,337.22 L1683.08,358.35 L1707.48,358.35 Z"/><path d="M1697.49,338.06 L1685.29,359.19 L1709.69,359.19 Z"/><path d="M1699.69,338.65 L1687.49,359.78 L1711.89,359.78 Z"/><path d="M1701.86,339.3 L1689.66,360.43 L1714.06,360.43 Z"/><path d="M1704.02,339.92 L1691.82,361.06 L1716.22,361.06 Z"/><path d="M1706.16,340.37 L1693.96,361.5 L1718.36,361.5 Z"/><path d="M1708.28,341.1 L1696.08,362.23 L1720.48,362.23 Z"/><path d="M1710.38,341.44 L1698.18,362.57 L1722.58,362.57 Z"/><path d="M1712.47,341.92 L1700.27,363.05 L1724.67,363.05 Z"/><path d="M1714.54,343.2 L1702.34,364.34 L1726.74,364.34 Z"/><path d="M1716.6,343.42 L1704.4,364.55 L1728.8,364.55 Z"/><path d="M1718.64,344 L1706.44,365.13 L1730.84,365.13 Z"/><path d="M1720.66,343.94 L1708.46,365.07 L1732.86,365.07 Z"/><path d="M1722.67,344.98 L1710.47,366.11 L1734.87,366.11 Z"/><path d="M1724.66,345.95 L1712.46,367.08 L1736.86,367.08 Z"/><path d="M1726.64,345.98 L1714.44,367.11 L1738.84,367.11 Z"/><path d="M1728.6,347.35 L1716.4,368.49 L1740.8,368.49 Z"/><path d="M1730.55,347.56 L1718.35,368.69 L1742.75,368.69 Z"/><path d="M1732.48,348.45 L1720.28,369.58 L1744.68,369.58 Z"/><path d="M1734.4,348.94 L1722.2,370.07 L1746.6,370.07 Z"/><path d="M1736.31,349.68 L1724.11,370.81 L1748.51,370.81 Z"/><path d="M1738.2,350.61 L1726,371.75 L1750.4,371.75 Z"/><path d="M1740.07,350.76 L1727.87,371.89 L1752.27,371.89 Z"/><path d="M1741.94,351.98 L1729.74,373.11 L1754.14,373.11 Z"/><path d="M1743.79,351.95 L1731.59,373.08 L1755.99,373.08 Z"/><path d="M1745.63,352.67 L1733.43,373.8 L1757.83,373.8 Z"/><path d="M1747.45,353.92 L1735.25,375.05 L1759.65,375.05 Z"/><path d="M1749.27,354.13 L1737.07,375.26 L1761.47,375.26 Z"/><path d="M1751.07,355.09 L1738.87,376.22 L1763.27,376.22 Z"/><path d="M1752.85,356.21 L1740.65,377.34 L1765.05,377.34 Z"/><path d="M1754.63,357.03 L1742.43,378.17 L1766.83,378.17 Z"/><path d="M1756.39,356.87 L1744.19,378 L1768.59,378 Z"/><path d="M1758.14,358.28 L1745.94,379.41 L1770.34,379.41 Z"/><path d="M1759.88,359.41 L1747.68,380.54 L1772.08,380.54 Z"/><path d="M1761.61,359.85 L1749.41,380.98 L1773.81,380.98 Z"/><path d="M1763.33,360.05 L1751.13,381.19 L1775.53,381.19 Z"/><path d="M1765.04,360.64 L1752.84,381.77 L1777.24,381.77 Z"/><path d="M1766.73,361.67 L1754.53,382.8 L1778.93,382.8 Z"/><path d="M1768.41,362.34 L1756.21,383.48 L1780.61,383.48 Z"/><path d="M1770.09,363.54 L1757.89,384.67 L1782.29,384.67 Z"/><path d="M1771.75,364.48 L1759.55,385.61 L1783.95,385.61 Z"/><path d="M1773.4,365.41 L1761.2,386.54 L1785.6,386.54 Z"/><path d="M1775.04,366.71 L1762.84,387.85 L1787.24,387.85 Z"/><path d="M1776.67,367.19 L1764.47,388.32 L1788.87,388.32 Z"/><path d="M1778.3,367.72 L1766.1,388.85 L1790.5,388.85 Z"/><path d="M1779.91,369.37 L1767.71,390.5 L1792.11,390.5 Z"/><path d="M1781.51,369.62 L1769.31,390.75 L1793.71,390.75 Z"/><path d="M1783.1,370.68 L1770.9,391.82 L1795.3,391.82 Z"/><path d="M1784.68,371.65 L1772.48,392.79 L1796.88,392.79 Z"/><path d="M1786.25,372.47 L1774.05,393.6 L1798.45,393.6 Z"/><path d="M1787.82,373.41 L1775.62,394.54 L1800.02,394.54 Z"/><path d="M1789.37,374.76 L1777.17,395.89 L1801.57,395.89 Z"/><path d="M1790.91,380.76 L1778.71,401.89 L1803.11,401.89 Z"/><path d="M1792.45,375.74 L1780.25,396.87 L1804.65,396.87 Z"/><path d="M1793.98,377.88 L1781.78,399.01 L1806.18,399.01 Z"/><path d="M1795.49,381.76 L1783.29,402.89 L1807.69,402.89 Z"/><path d="M1797,382.02 L1784.8,403.15 L1809.2,403.15 Z"/><path d="M1798.5,383.16 L1786.3,404.29 L1810.7,404.29 Z"/><path d="M1799.99,384.47 L1787.79,405.6 L1812.19,405.6 Z"/><path d="M1801.48,379.34 L1789.28,400.47 L1813.68,400.47 Z"/><path d="M1802.95,382.87 L1790.75,404 L1815.15,404 Z"/><path d="M1804.42,386.16 L1792.22,407.29 L1816.62,407.29 Z"/><path d="M1805.88,388.09 L1793.68,409.22 L1818.08,409.22 Z"/><path d="M1807.33,390.98 L1795.13,412.11 L1819.53,412.11 Z"/><path d="M1808.77,390.56 L1796.57,411.69 L1820.97,411.69 Z"/><path d="M1810.2,390.51 L1798,411.64 L1822.4,411.64 Z"/><path d="M1811.63,392.65 L1799.43,413.78 L1823.83,413.78 Z"/><path d="M1813.05,393.3 L1800.85,414.43 L1825.25,414.43 Z"/><path d="M1814.46,396.75 L1802.26,417.88 L1826.66,417.88 Z"/><path d="M1815.86,400.13 L1803.66,421.26 L1828.06,421.26 Z"/><path d="M1817.26,397.78 L1805.06,418.91 L1829.46,418.91 Z"/><path d="M1818.65,397.6 L1806.45,418.74 L1830.85,418.74 Z"/><path d="M1820.03,398.95 L1807.83,420.08 L1832.23,420.08 Z"/><path d="M1821.4,408.28 L1809.2,429.41 L1833.6,429.41 Z"/><path d="M1822.77,410.54 L1810.57,431.67 L1834.97,431.67 Z"/><path d="M1824.13,410.9 L1811.93,432.03 L1836.33,432.03 Z"/><path d="M1825.48,411.83 L1813.28,432.96 L1837.68,432.96 Z"/><path d="M1826.82,413.14 L1814.62,434.28 L1839.02,434.28 Z"/><path d="M1828.16,411.14 L1815.96,432.27 L1840.36,432.27 Z"/><path d="M1829.49,414.98 L1817.29,436.11 L1841.69,436.11 Z"/><path d="M1830.82,408.79 L1818.62,429.92 L1843.02,429.92 Z"/><path d="M1832.14,412.76 L1819.94,433.89 L1844.34,433.89 Z"/><path d="M1833.45,411.1 L1821.25,432.23 L1845.65,432.23 Z"/><path d="M1834.75,417.31 L1822.55,438.44 L1846.95,438.44 Z"/><path d="M1836.05,412.34 L1823.85,433.47 L1848.25,433.47 Z"/><path d="M1837.35,414.42 L1825.15,435.55 L1849.55,435.55 Z"/><path d="M1838.63,415.86 L1826.43,436.99 L1850.83,436.99 Z"/><path d="M1839.91,418.95 L1827.71,440.08 L1852.11,440.08 Z"/><path d="M1841.18,409.61 L1828.98,430.75 L1853.38,430.75 Z"/><path d="M1842.45,408.27 L1830.25,429.4 L1854.65,429.4 Z"/><path d="M1843.71,414.54 L1831.51,435.67 L1855.91,435.67 Z"/><path d="M1844.97,406.11 L1832.77,427.24 L1857.17,427.24 Z"/><path d="M1846.22,411.63 L1834.02,432.76 L1858.42,432.76 Z"/><path d="M1847.46,406.87 L1835.26,428 L1859.66,428 Z"/><path d="M1848.7,408.08 L1836.5,429.21 L1860.9,429.21 Z"/><path d="M1849.93,400.62 L1837.73,421.75 L1862.13,421.75 Z"/><path d="M1851.15,410.01 L1838.95,431.14 L1863.35,431.14 Z"/><path d="M1852.37,404.43 L1840.17,425.56 L1864.57,425.56 Z"/><path d="M1853.59,402.14 L1841.39,423.27 L1865.79,423.27 Z"/><path d="M1854.79,413.36 L1842.59,434.49 L1866.99,434.49 Z"/><path d="M1856,407.24 L1843.8,428.37 L1868.2,428.37 Z"/><path d="M1857.19,417.78 L1844.99,438.91 L1869.39,438.91 Z"/><path d="M1858.39,404.74 L1846.19,425.87 L1870.59,425.87 Z"/><path d="M1859.57,401.09 L1847.37,422.22 L1871.77,422.22 Z"/><path d="M1860.75,402.29 L1848.55,423.42 L1872.95,423.42 Z"/><path d="M1861.93,407.67 L1849.73,428.8 L1874.13,428.8 Z"/><path d="M1863.1,400.47 L1850.9,421.6 L1875.3,421.6 Z"/><path d="M1864.27,401.72 L1852.07,422.85 L1876.47,422.85 Z"/><path d="M1865.43,401.33 L1853.23,422.47 L1877.63,422.47 Z"/><path d="M1866.58,394.99 L1854.38,416.12 L1878.78,416.12 Z"/><path d="M1867.73,398.52 L1855.53,419.65 L1879.93,419.65 Z"/><path d="M1868.88,395.38 L1856.68,416.51 L1881.08,416.51 Z"/><path d="M1870.02,391.82 L1857.82,412.95 L1882.22,412.95 Z"/><path d="M1871.15,399.72 L1858.95,420.85 L1883.35,420.85 Z"/><path d="M1872.28,398.41 L1860.08,419.54 L1884.48,419.54 Z"/><path d="M1873.4,395.78 L1861.2,416.91 L1885.6,416.91 Z"/><path d="M1874.53,391.6 L1862.33,412.73 L1886.73,412.73 Z"/><path d="M1875.64,386.99 L1863.44,408.12 L1887.84,408.12 Z"/><path d="M1876.75,396.76 L1864.55,417.89 L1888.95,417.89 Z"/><path d="M1877.86,394.25 L1865.66,415.38 L1890.06,415.38 Z"/><path d="M1878.96,387.76 L1866.76,408.89 L1891.16,408.89 Z"/><path d="M1880.06,394.12 L1867.86,415.25 L1892.26,415.25 Z"/><path d="M1881.15,388.16 L1868.95,409.29 L1893.35,409.29 Z"/><path d="M1882.24,394.04 L1870.04,415.17 L1894.44,415.17 Z"/><path d="M1883.32,394.71 L1871.12,415.85 L1895.52,415.85 Z"/><path d="M1884.4,395.75 L1872.2,416.88 L1896.6,416.88 Z"/><path d="M1885.47,395.4 L1873.27,416.53 L1897.67,416.53 Z"/><path d="M1886.54,395.41 L1874.34,416.54 L1898.74,416.54 Z"/><path d="M1887.61,390.36 L1875.41,411.49 L1899.81,411.49 Z"/><path d="M1888.67,393.58 L1876.47,414.71 L1900.87,414.71 Z"/><path d="M1889.72,393.25 L1877.52,414.38 L1901.92,414.38 Z"/><path d="M1890.78,394.54 L1878.58,415.67 L1902.98,415.67 Z"/><path d="M1891.82,396.73 L1879.62,417.86 L1904.02,417.86 Z"/><path d="M1892.87,398.29 L1880.67,419.42 L1905.07,419.42 Z"/></g>
<g fill="#fff" stroke="#f8b885" stroke-width="0.7"><rect x="1316.55" y="427.95" width="18.3" height="18.3"/><rect x="1325.55" y="427.02" width="18.3" height="18.3"/><rect x="1334.24" y="428.23" width="18.3" height="18.3"/><rect x="1342.65" y="428.36" width="18.3" height="18.3"/><rect x="1350.8" y="429.4" width="18.3" height="18.3"/><rect x="1358.71" y="429.28" width="18.3" height="18.3"/><rect x="1366.38" y="428.79" width="18.3" height="18.3"/><rect x="1373.83" y="429.68" width="18.3" height="18.3"/><rect x="1381.08" y="429.66" width="18.3" height="18.3"/><rect x="1388.13" y="430.37" width="18.3" height="18.3"/><rect x="1394.99" y="430" width="18.3" height="18.3"/><rect x="1401.68" y="430.53" width="18.3" height="18.3"/><rect x="1408.2" y="430.76" width="18.3" height="18.3"/><rect x="1414.57" y="430.99" width="18.3" height="18.3"/><rect x="1420.78" y="431.07" width="18.3" height="18.3"/><rect x="1426.84" y="430.86" width="18.3" height="18.3"/><rect x="1432.77" y="431.71" width="18.3" height="18.3"/><rect x="1438.57" y="432.02" width="18.3" height="18.3"/><rect x="1444.24" y="431.85" width="18.3" height="18.3"/><rect x="1449.79" y="431.72" width="18.3" height="18.3"/><rect x="1455.23" y="432.23" width="18.3" height="18.3"/><rect x="1460.55" y="432.48" width="18.3" height="18.3"/><rect x="1465.77" y="432.4" width="18.3" height="18.3"/><rect x="1470.89" y="432.58" width="18.3" height="18.3"/><rect x="1475.9" y="433.14" width="18.3" height="18.3"/><rect x="1480.83" y="432.51" width="18.3" height="18.3"/><rect x="1485.66" y="432.86" width="18.3" height="18.3"/><rect x="1490.4" y="432.64" width="18.3" height="18.3"/><rect x="1495.06" y="433.17" width="18.3" height="18.3"/><rect x="1499.64" y="433.33" width="18.3" height="18.3"/><rect x="1504.14" y="433.44" width="18.3" height="18.3"/><rect x="1508.56" y="433.68" width="18.3" height="18.3"/><rect x="1512.91" y="434.59" width="18.3" height="18.3"/><rect x="1517.19" y="434.16" width="18.3" height="18.3"/><rect x="1521.4" y="434.34" width="18.3" height="18.3"/><rect x="1525.54" y="435.19" width="18.3" height="18.3"/><rect x="1529.61" y="434.75" width="18.3" height="18.3"/><rect x="1533.63" y="434.5" width="18.3" height="18.3"/><rect x="1537.58" y="435.39" width="18.3" height="18.3"/><rect x="1541.48" y="435.23" width="18.3" height="18.3"/><rect x="1545.31" y="436.24" width="18.3" height="18.3"/><rect x="1549.1" y="435.61" width="18.3" height="18.3"/><rect x="1552.82" y="436.04" width="18.3" height="18.3"/><rect x="1556.5" y="435.96" width="18.3" height="18.3"/><rect x="1560.12" y="436.69" width="18.3" height="18.3"/><rect x="1563.7" y="436.58" width="18.3" height="18.3"/><rect x="1567.22" y="437.09" width="18.3" height="18.3"/><rect x="1570.7" y="437.21" width="18.3" height="18.3"/><rect x="1574.14" y="437.39" width="18.3" height="18.3"/><rect x="1577.53" y="438.11" width="18.3" height="18.3"/><rect x="1580.87" y="438.36" width="18.3" height="18.3"/><rect x="1584.18" y="438.35" width="18.3" height="18.3"/><rect x="1587.44" y="438.31" width="18.3" height="18.3"/><rect x="1590.66" y="438.5" width="18.3" height="18.3"/><rect x="1593.84" y="439.14" width="18.3" height="18.3"/><rect x="1596.99" y="440.17" width="18.3" height="18.3"/><rect x="1600.09" y="439.7" width="18.3" height="18.3"/><rect x="1603.16" y="439.98" width="18.3" height="18.3"/><rect x="1606.2" y="440.38" width="18.3" height="18.3"/><rect x="1609.2" y="440.64" width="18.3" height="18.3"/><rect x="1612.16" y="441.04" width="18.3" height="18.3"/><rect x="1615.09" y="441.63" width="18.3" height="18.3"/><rect x="1617.99" y="442.53" width="18.3" height="18.3"/><rect x="1620.86" y="442.53" width="18.3" height="18.3"/><rect x="1623.7" y="442.81" width="18.3" height="18.3"/><rect x="1626.5" y="442.9" width="18.3" height="18.3"/><rect x="1629.28" y="443.87" width="18.3" height="18.3"/><rect x="1632.03" y="444.21" width="18.3" height="18.3"/><rect x="1634.75" y="444.26" width="18.3" height="18.3"/><rect x="1637.44" y="444.71" width="18.3" height="18.3"/><rect x="1640.1" y="445.49" width="18.3" height="18.3"/><rect x="1642.74" y="446.33" width="18.3" height="18.3"/><rect x="1645.35" y="446.73" width="18.3" height="18.3"/><rect x="1647.93" y="447.12" width="18.3" height="18.3"/><rect x="1650.49" y="447.47" width="18.3" height="18.3"/><rect x="1653.02" y="448.17" width="18.3" height="18.3"/><rect x="1655.53" y="448.57" width="18.3" height="18.3"/><rect x="1658.02" y="449.72" width="18.3" height="18.3"/><rect x="1660.48" y="449.22" width="18.3" height="18.3"/><rect x="1662.92" y="449.96" width="18.3" height="18.3"/><rect x="1665.33" y="450.98" width="18.3" height="18.3"/><rect x="1667.73" y="451.04" width="18.3" height="18.3"/><rect x="1670.1" y="452.06" width="18.3" height="18.3"/><rect x="1672.45" y="452.13" width="18.3" height="18.3"/><rect x="1674.78" y="452.7" width="18.3" height="18.3"/><rect x="1677.09" y="453.04" width="18.3" height="18.3"/><rect x="1679.38" y="453.24" width="18.3" height="18.3"/><rect x="1681.65" y="453.86" width="18.3" height="18.3"/><rect x="1683.9" y="455.3" width="18.3" height="18.3"/><rect x="1686.13" y="455.32" width="18.3" height="18.3"/><rect x="1688.34" y="455.79" width="18.3" height="18.3"/><rect x="1690.54" y="456.37" width="18.3" height="18.3"/><rect x="1692.71" y="456.78" width="18.3" height="18.3"/><rect x="1694.87" y="457.45" width="18.3" height="18.3"/><rect x="1697.01" y="457.6" width="18.3" height="18.3"/><rect x="1699.13" y="458.13" width="18.3" height="18.3"/><rect x="1701.23" y="459.02" width="18.3" height="18.3"/><rect x="1703.32" y="459.13" width="18.3" height="18.3"/><rect x="1705.39" y="459.35" width="18.3" height="18.3"/><rect x="1707.45" y="460.2" width="18.3" height="18.3"/><rect x="1709.49" y="460.6" width="18.3" height="18.3"/><rect x="1711.51" y="461.45" width="18.3" height="18.3"/><rect x="1713.52" y="461.56" width="18.3" height="18.3"/><rect x="1715.51" y="462.16" width="18.3" height="18.3"/><rect x="1717.49" y="463.07" width="18.3" height="18.3"/><rect x="1719.45" y="464.33" width="18.3" height="18.3"/><rect x="1721.4" y="464.54" width="18.3" height="18.3"/><rect x="1723.33" y="465.28" width="18.3" height="18.3"/><rect x="1725.25" y="465.91" width="18.3" height="18.3"/><rect x="1727.16" y="466.67" width="18.3" height="18.3"/><rect x="1729.05" y="467.53" width="18.3" height="18.3"/><rect x="1730.92" y="468.33" width="18.3" height="18.3"/><rect x="1732.79" y="468.07" width="18.3" height="18.3"/><rect x="1734.64" y="469.63" width="18.3" height="18.3"/><rect x="1736.48" y="469.9" width="18.3" height="18.3"/><rect x="1738.3" y="470.63" width="18.3" height="18.3"/><rect x="1740.12" y="472.27" width="18.3" height="18.3"/><rect x="1741.92" y="472.32" width="18.3" height="18.3"/><rect x="1743.7" y="473.77" width="18.3" height="18.3"/><rect x="1745.48" y="474.28" width="18.3" height="18.3"/><rect x="1747.24" y="474.5" width="18.3" height="18.3"/><rect x="1748.99" y="475.76" width="18.3" height="18.3"/><rect x="1750.73" y="476.64" width="18.3" height="18.3"/><rect x="1752.46" y="477.2" width="18.3" height="18.3"/><rect x="1754.18" y="477.35" width="18.3" height="18.3"/><rect x="1755.89" y="478.77" width="18.3" height="18.3"/><rect x="1757.58" y="479.64" width="18.3" height="18.3"/><rect x="1759.26" y="480.25" width="18.3" height="18.3"/><rect x="1760.94" y="482.17" width="18.3" height="18.3"/><rect x="1762.6" y="482.6" width="18.3" height="18.3"/><rect x="1764.25" y="483.61" width="18.3" height="18.3"/><rect x="1765.89" y="484.69" width="18.3" height="18.3"/><rect x="1767.52" y="485.6" width="18.3" height="18.3"/><rect x="1769.15" y="486.67" width="18.3" height="18.3"/><rect x="1770.76" y="487.99" width="18.3" height="18.3"/><rect x="1772.36" y="489.11" width="18.3" height="18.3"/><rect x="1773.95" y="489.91" width="18.3" height="18.3"/><rect x="1775.53" y="491.07" width="18.3" height="18.3"/><rect x="1777.1" y="491.7" width="18.3" height="18.3"/><rect x="1778.67" y="493.27" width="18.3" height="18.3"/><rect x="1780.22" y="493.87" width="18.3" height="18.3"/><rect x="1781.76" y="495.55" width="18.3" height="18.3"/><rect x="1783.3" y="494.58" width="18.3" height="18.3"/><rect x="1784.83" y="496.6" width="18.3" height="18.3"/><rect x="1786.34" y="499.28" width="18.3" height="18.3"/><rect x="1787.85" y="497.61" width="18.3" height="18.3"/><rect x="1789.35" y="506.12" width="18.3" height="18.3"/><rect x="1790.84" y="502.24" width="18.3" height="18.3"/><rect x="1792.33" y="503.27" width="18.3" height="18.3"/><rect x="1793.8" y="503.26" width="18.3" height="18.3"/><rect x="1795.27" y="509.29" width="18.3" height="18.3"/><rect x="1796.73" y="510.24" width="18.3" height="18.3"/><rect x="1798.18" y="509.43" width="18.3" height="18.3"/><rect x="1799.62" y="507.46" width="18.3" height="18.3"/><rect x="1801.05" y="510.56" width="18.3" height="18.3"/><rect x="1802.48" y="514.19" width="18.3" height="18.3"/><rect x="1803.9" y="513.37" width="18.3" height="18.3"/><rect x="1805.31" y="513.85" width="18.3" height="18.3"/><rect x="1806.71" y="509.84" width="18.3" height="18.3"/><rect x="1808.11" y="514.78" width="18.3" height="18.3"/><rect x="1809.5" y="522.41" width="18.3" height="18.3"/><rect x="1810.88" y="520.03" width="18.3" height="18.3"/><rect x="1812.25" y="527.08" width="18.3" height="18.3"/><rect x="1813.62" y="549.02" width="18.3" height="18.3"/><rect x="1814.98" y="544.53" width="18.3" height="18.3"/><rect x="1816.33" y="527.46" width="18.3" height="18.3"/><rect x="1817.67" y="539.74" width="18.3" height="18.3"/><rect x="1819.01" y="540.58" width="18.3" height="18.3"/><rect x="1820.34" y="541.6" width="18.3" height="18.3"/><rect x="1821.67" y="552.37" width="18.3" height="18.3"/><rect x="1822.99" y="544.72" width="18.3" height="18.3"/><rect x="1824.3" y="544.89" width="18.3" height="18.3"/><rect x="1825.6" y="544.44" width="18.3" height="18.3"/><rect x="1826.9" y="545.98" width="18.3" height="18.3"/><rect x="1828.2" y="555.02" width="18.3" height="18.3"/><rect x="1829.48" y="550.54" width="18.3" height="18.3"/><rect x="1830.76" y="534.58" width="18.3" height="18.3"/><rect x="1832.03" y="539.54" width="18.3" height="18.3"/><rect x="1833.3" y="535.39" width="18.3" height="18.3"/><rect x="1834.56" y="544.88" width="18.3" height="18.3"/><rect x="1835.82" y="538.91" width="18.3" height="18.3"/><rect x="1837.07" y="541.76" width="18.3" height="18.3"/><rect x="1838.31" y="533.35" width="18.3" height="18.3"/><rect x="1839.55" y="518.77" width="18.3" height="18.3"/><rect x="1840.78" y="533.75" width="18.3" height="18.3"/><rect x="1842" y="530.75" width="18.3" height="18.3"/><rect x="1843.22" y="529.87" width="18.3" height="18.3"/><rect x="1844.44" y="521.42" width="18.3" height="18.3"/><rect x="1845.64" y="525.84" width="18.3" height="18.3"/><rect x="1846.85" y="521.73" width="18.3" height="18.3"/><rect x="1848.04" y="520.77" width="18.3" height="18.3"/><rect x="1849.24" y="524.01" width="18.3" height="18.3"/><rect x="1850.42" y="523.35" width="18.3" height="18.3"/><rect x="1851.6" y="517.76" width="18.3" height="18.3"/><rect x="1852.78" y="513.89" width="18.3" height="18.3"/><rect x="1853.95" y="510.26" width="18.3" height="18.3"/><rect x="1855.12" y="517.29" width="18.3" height="18.3"/><rect x="1856.28" y="523.52" width="18.3" height="18.3"/><rect x="1857.43" y="518.24" width="18.3" height="18.3"/><rect x="1858.58" y="508.89" width="18.3" height="18.3"/><rect x="1859.73" y="513.89" width="18.3" height="18.3"/><rect x="1860.87" y="518.47" width="18.3" height="18.3"/><rect x="1862" y="522.92" width="18.3" height="18.3"/><rect x="1863.13" y="520.36" width="18.3" height="18.3"/><rect x="1864.25" y="516.62" width="18.3" height="18.3"/><rect x="1865.38" y="515.42" width="18.3" height="18.3"/><rect x="1866.49" y="509.92" width="18.3" height="18.3"/><rect x="1867.6" y="512.15" width="18.3" height="18.3"/><rect x="1868.71" y="512.44" width="18.3" height="18.3"/><rect x="1869.81" y="510.51" width="18.3" height="18.3"/><rect x="1870.91" y="513.71" width="18.3" height="18.3"/><rect x="1872" y="511.76" width="18.3" height="18.3"/><rect x="1873.09" y="514.56" width="18.3" height="18.3"/><rect x="1874.17" y="518.85" width="18.3" height="18.3"/><rect x="1875.25" y="515.99" width="18.3" height="18.3"/><rect x="1876.32" y="514.62" width="18.3" height="18.3"/><rect x="1877.39" y="511.92" width="18.3" height="18.3"/><rect x="1878.46" y="506.74" width="18.3" height="18.3"/><rect x="1879.52" y="512.32" width="18.3" height="18.3"/><rect x="1880.57" y="514.9" width="18.3" height="18.3"/><rect x="1881.63" y="508.64" width="18.3" height="18.3"/><rect x="1882.67" y="517.65" width="18.3" height="18.3"/><rect x="1883.72" y="511.38" width="18.3" height="18.3"/><rect x="1827.25" y="580.45" width="18.3" height="18.3"/><rect x="1822.85" y="562.85" width="18.3" height="18.3"/><rect x="1819.35" y="553.35" width="18.3" height="18.3"/><rect x="1831.85" y="551.85" width="18.3" height="18.3"/><rect x="1838.85" y="546.85" width="18.3" height="18.3"/></g>
</g>
<path d="M1325.8,211.9 C1334.83,212.38 1362.63,213.95 1380,214.8 C1397.37,215.65 1411.67,216.33 1430,217 C1448.33,217.67 1472.47,218.32 1490,218.8 C1507.53,219.28 1520.15,219.33 1535.2,219.9 C1550.25,220.47 1569.02,221.53 1580.3,222.2 C1591.58,222.87 1595.37,223.15 1602.9,223.9 C1610.43,224.65 1617.98,225.58 1625.5,226.7 C1633.02,227.82 1640.48,229.18 1648,230.6 C1655.52,232.02 1663.07,233.7 1670.6,235.2 C1678.13,236.7 1684.72,237.77 1693.2,239.6 C1701.68,241.43 1713.18,243.93 1721.5,246.2 C1729.82,248.47 1735.92,250.7 1743.1,253.2 C1750.28,255.7 1757.42,258.25 1764.6,261.2 C1771.78,264.15 1779.02,267.48 1786.2,270.9 C1793.38,274.32 1802.32,278.73 1807.7,281.7 C1813.08,284.67 1814.9,286.48 1818.5,288.7 C1822.1,290.92 1826.05,293.55 1829.3,295 C1832.55,296.45 1834.42,297.18 1838,297.4 C1841.58,297.62 1845.07,297.12 1850.8,296.3 C1856.53,295.48 1865.22,293.45 1872.4,292.5 C1879.58,291.55 1888.57,290.77 1893.9,290.6 C1899.23,290.43 1902.65,291.35 1904.4,291.5" fill="none" stroke="#008000" stroke-width="5.9" stroke-linejoin="round" stroke-linecap="round"/>
<path d="M1325.5,323.2 C1334.58,323.47 1362.58,324.3 1380,324.8 C1397.42,325.3 1411.67,325.72 1430,326.2 C1448.33,326.68 1472.47,327.18 1490,327.7 C1507.53,328.22 1520.15,328.55 1535.2,329.3 C1550.25,330.05 1569.02,331.35 1580.3,332.2 C1591.58,333.05 1595.37,333.57 1602.9,334.4 C1610.43,335.23 1617.98,336.07 1625.5,337.2 C1633.02,338.33 1640.48,339.78 1648,341.2 C1655.52,342.62 1663.07,344.17 1670.6,345.7 C1678.13,347.23 1684.7,348.53 1693.2,350.4 C1701.7,352.27 1713.28,354.77 1721.6,356.9 C1729.92,359.03 1735.92,360.82 1743.1,363.2 C1750.28,365.58 1757.52,367.88 1764.7,371.2 C1771.88,374.52 1779.03,378.52 1786.2,383.1 C1793.37,387.68 1802.32,394.4 1807.7,398.7 C1813.08,403 1814.9,405.85 1818.5,408.9 C1822.1,411.95 1826.13,415.1 1829.3,417 C1832.47,418.9 1834.05,420.22 1837.5,420.3 C1840.95,420.38 1845.92,418.72 1850,417.5 C1854.08,416.28 1858.33,414.45 1862,413 C1865.67,411.55 1868.5,409.87 1872,408.8 C1875.5,407.73 1879.17,406.87 1883,406.6 C1886.83,406.33 1891.43,406.87 1895,407.2 C1898.57,407.53 1902.83,408.37 1904.4,408.6" fill="none" stroke="#0a7bbf" stroke-width="5.9" stroke-linejoin="round" stroke-linecap="round"/>
<path d="M1325.5,436.6 C1334.58,436.93 1362.58,437.97 1380,438.6 C1397.42,439.23 1411.67,439.83 1430,440.4 C1448.33,440.97 1472.47,441.45 1490,442 C1507.53,442.55 1520.15,442.95 1535.2,443.7 C1550.25,444.45 1569.02,445.75 1580.3,446.5 C1591.58,447.25 1595.37,447.45 1602.9,448.2 C1610.43,448.95 1617.98,449.97 1625.5,451 C1633.02,452.03 1640.48,453.08 1648,454.4 C1655.52,455.72 1661.93,457.08 1670.6,458.9 C1679.27,460.72 1691.33,463.3 1700,465.3 C1708.67,467.3 1715.05,468.63 1722.6,470.9 C1730.15,473.17 1737.75,475.87 1745.3,478.9 C1752.85,481.93 1760.35,485.23 1767.9,489.1 C1775.45,492.97 1784.93,498.43 1790.6,502.1 C1796.27,505.77 1798.13,507.7 1801.9,511.1 C1805.67,514.5 1809.43,518.18 1813.2,522.5 C1816.97,526.82 1821.38,533.18 1824.5,537 C1827.62,540.82 1829.07,544.62 1831.9,545.4 C1834.73,546.18 1837.07,544.02 1841.5,541.7 C1845.93,539.38 1852.83,534.33 1858.5,531.5 C1864.17,528.67 1869.83,526.2 1875.5,524.7 C1881.17,523.2 1887.68,522.42 1892.5,522.5 C1897.32,522.58 1902.42,524.75 1904.4,525.2" fill="none" stroke="#ff8000" stroke-width="5.9" stroke-linejoin="round" stroke-linecap="round"/>
<line x1="1215.3" y1="136.7" x2="1904.4" y2="136.7" stroke="#000000" stroke-width="4.8" stroke-linecap="butt"/>
<line x1="1904.4" y1="134.3" x2="1904.4" y2="651.9" stroke="#000000" stroke-width="4.8" stroke-linecap="butt"/>
<line x1="1215.3" y1="649.5" x2="1906.8" y2="649.5" stroke="#000000" stroke-width="4.8" stroke-linecap="butt"/>
<line x1="1215.3" y1="134.3" x2="1215.3" y2="649.5" stroke="#000000" stroke-width="4.8" stroke-linecap="butt"/>
<line x1="1215.3" y1="617.02" x2="1210.4" y2="617.02" stroke="#000000" stroke-width="4.4" stroke-linecap="round"/>
<line x1="1215.3" y1="580.4" x2="1210.4" y2="580.4" stroke="#000000" stroke-width="4.4" stroke-linecap="round"/>
<line x1="1215.3" y1="543.78" x2="1205.8" y2="543.78" stroke="#000000" stroke-width="4.4" stroke-linecap="round"/>
<line x1="1215.3" y1="507.16" x2="1210.4" y2="507.16" stroke="#000000" stroke-width="4.4" stroke-linecap="round"/>
<line x1="1215.3" y1="470.54" x2="1210.4" y2="470.54" stroke="#000000" stroke-width="4.4" stroke-linecap="round"/>
<line x1="1215.3" y1="433.92" x2="1205.8" y2="433.92" stroke="#000000" stroke-width="4.4" stroke-linecap="round"/>
<line x1="1215.3" y1="397.3" x2="1210.4" y2="397.3" stroke="#000000" stroke-width="4.4" stroke-linecap="round"/>
<line x1="1215.3" y1="360.68" x2="1210.4" y2="360.68" stroke="#000000" stroke-width="4.4" stroke-linecap="round"/>
<line x1="1215.3" y1="324.06" x2="1205.8" y2="324.06" stroke="#000000" stroke-width="4.4" stroke-linecap="round"/>
<line x1="1215.3" y1="287.44" x2="1210.4" y2="287.44" stroke="#000000" stroke-width="4.4" stroke-linecap="round"/>
<line x1="1215.3" y1="250.82" x2="1210.4" y2="250.82" stroke="#000000" stroke-width="4.4" stroke-linecap="round"/>
<line x1="1215.3" y1="214.2" x2="1205.8" y2="214.2" stroke="#000000" stroke-width="4.4" stroke-linecap="round"/>
<line x1="1215.3" y1="177.58" x2="1210.4" y2="177.58" stroke="#000000" stroke-width="4.4" stroke-linecap="round"/>
<line x1="1215.3" y1="140.96" x2="1210.4" y2="140.96" stroke="#000000" stroke-width="4.4" stroke-linecap="round"/>
<line x1="1215.3" y1="649.5" x2="1215.3" y2="659.6" stroke="#000000" stroke-width="4.4" stroke-linecap="round"/>
<line x1="1396.25" y1="649.5" x2="1396.25" y2="654.7" stroke="#000000" stroke-width="4.4" stroke-linecap="round"/>
<line x1="1502.1" y1="649.5" x2="1502.1" y2="654.7" stroke="#000000" stroke-width="4.4" stroke-linecap="round"/>
<line x1="1577.2" y1="649.5" x2="1577.2" y2="654.7" stroke="#000000" stroke-width="4.4" stroke-linecap="round"/>
<line x1="1635.45" y1="649.5" x2="1635.45" y2="654.7" stroke="#000000" stroke-width="4.4" stroke-linecap="round"/>
<line x1="1683.05" y1="649.5" x2="1683.05" y2="654.7" stroke="#000000" stroke-width="4.4" stroke-linecap="round"/>
<line x1="1723.29" y1="649.5" x2="1723.29" y2="654.7" stroke="#000000" stroke-width="4.4" stroke-linecap="round"/>
<line x1="1758.15" y1="649.5" x2="1758.15" y2="654.7" stroke="#000000" stroke-width="4.4" stroke-linecap="round"/>
<line x1="1788.9" y1="649.5" x2="1788.9" y2="654.7" stroke="#000000" stroke-width="4.4" stroke-linecap="round"/>
<line x1="1816.4" y1="649.5" x2="1816.4" y2="659.6" stroke="#000000" stroke-width="4.4" stroke-linecap="round"/>
<text x="1152.3" y="227.6" font-size="35.47" letter-spacing="-1.66" fill="#000000">10</text>
<text x="1189.08" y="211" font-size="20.49" letter-spacing="0" fill="#000000">5</text>
<text x="1152.3" y="337.46" font-size="35.47" letter-spacing="-1.66" fill="#000000">10</text>
<text x="1188.88" y="320.86" font-size="20.19" letter-spacing="0" fill="#000000">2</text>
<text x="1145.9" y="447.32" font-size="35.47" letter-spacing="-1.16" fill="#000000">10</text>
<text x="1182.3" y="430.62" font-size="20.35" letter-spacing="1" fill="#000000">-1</text>
<text x="1145.9" y="557.18" font-size="35.47" letter-spacing="-1.16" fill="#000000">10</text>
<text x="1182.3" y="540.48" font-size="20.35" letter-spacing="0.61" fill="#000000">-4</text>
<text x="1192.28" y="696.9" font-size="33.14" letter-spacing="-1.64" fill="#000000">10</text>
<text x="1225.53" y="681.7" font-size="19.48" letter-spacing="1.03" fill="#000000">-2</text>
<text x="1794.11" y="696.8" font-size="32.7" letter-spacing="-1.11" fill="#000000">10</text>
<text x="1827.63" y="681.6" font-size="19.62" letter-spacing="-1.32" fill="#000000">-1</text>
<text transform="rotate(-90)" x="-508.99" y="1117.5" font-size="45.35" letter-spacing="1.15" fill="#000000">I(q) [a.u.]</text>
<text x="1498.92" y="721" font-size="44.77" letter-spacing="-0.59" fill="#000000">q [1/Å]</text>
<text transform="translate(1074.58,801.6) scale(1.0129,1)" x="0" y="0" font-size="56.86" fill="#231815">d</text>
<line x1="1215.6" y1="786.6" x2="1915.2" y2="786.6" stroke="#000000" stroke-width="4.5" stroke-linecap="butt"/>
<line x1="1915.2" y1="784.35" x2="1915.2" y2="1309.85" stroke="#231815" stroke-width="4.5" stroke-linecap="butt"/>
<path d="M1215.6,1307.6 C1216.17,1306 1217.97,1302.77 1219,1298 C1220.03,1293.23 1220.85,1285.83 1221.8,1279 C1222.75,1272.17 1223.82,1264.5 1224.7,1257 C1225.58,1249.5 1226.15,1246.17 1227.1,1234 C1228.05,1221.83 1229.2,1199.83 1230.4,1184 C1231.6,1168.17 1232.98,1153.17 1234.3,1139 C1235.62,1124.83 1237.3,1110.83 1238.3,1099 C1239.3,1087.17 1239.55,1078.17 1240.3,1068 C1241.05,1057.83 1241.9,1049.67 1242.8,1038 C1243.7,1026.33 1244.63,1009.67 1245.7,998 C1246.77,986.33 1248.12,976.67 1249.2,968 C1250.28,959.33 1251.22,954.67 1252.2,946 C1253.18,937.33 1254.03,925.67 1255.1,916 C1256.17,906.33 1257.27,895.75 1258.6,888 C1259.93,880.25 1261.55,874.2 1263.1,869.5 C1264.65,864.8 1265.98,859.63 1267.9,859.8 C1269.82,859.97 1272.75,864.3 1274.6,870.5 C1276.45,876.7 1277.77,888.42 1279,897 C1280.23,905.58 1281,913.67 1282,922 C1283,930.33 1284.05,938.5 1285,947 C1285.95,955.5 1286.8,962.83 1287.7,973 C1288.6,983.17 1289.37,997.17 1290.4,1008 C1291.43,1018.83 1292.9,1028 1293.9,1038 C1294.9,1048 1295.6,1057 1296.4,1068 C1297.2,1079 1297.8,1092.17 1298.7,1104 C1299.6,1115.83 1300.7,1126.67 1301.8,1139 C1302.9,1151.33 1304.13,1166.5 1305.3,1178 C1306.47,1189.5 1307.73,1198.5 1308.8,1208 C1309.87,1217.5 1310.53,1227.33 1311.7,1235 C1312.87,1242.67 1314.15,1248.5 1315.8,1254 C1317.45,1259.5 1319.2,1264.78 1321.6,1268 C1324,1271.22 1326.22,1274.65 1330.2,1273.3 C1334.18,1271.95 1340.83,1265.52 1345.5,1259.9 C1350.17,1254.28 1353.95,1247.23 1358.2,1239.6 C1362.45,1231.97 1366.75,1222.18 1371,1214.1 C1375.25,1206.02 1379.47,1197.78 1383.7,1191.1 C1387.93,1184.42 1392.15,1178.45 1396.4,1174 C1400.65,1169.55 1404.95,1166.53 1409.2,1164.4 C1413.45,1162.27 1417.67,1161.2 1421.9,1161.2 C1426.13,1161.2 1430.35,1162.38 1434.6,1164.4 C1438.85,1166.42 1443.15,1169.7 1447.4,1173.3 C1451.65,1176.9 1455.85,1180.9 1460.1,1186 C1464.35,1191.1 1468.65,1198.17 1472.9,1203.9 C1477.15,1209.63 1481.37,1214.88 1485.6,1220.4 C1489.83,1225.92 1494.05,1232.12 1498.3,1237 C1502.55,1241.88 1506.85,1246.3 1511.1,1249.7 C1515.35,1253.1 1519.55,1255.38 1523.8,1257.4 C1528.05,1259.42 1532.35,1260.77 1536.6,1261.8 C1540.85,1262.83 1544.63,1262.48 1549.3,1263.6 C1553.97,1264.72 1560,1266.65 1564.6,1268.5 C1569.2,1270.35 1572.78,1272.75 1576.9,1274.7 C1581.02,1276.65 1585.18,1278.15 1589.3,1280.2 C1593.42,1282.25 1597.5,1284.63 1601.6,1287 C1605.7,1289.37 1609.8,1292.15 1613.9,1294.4 C1618,1296.65 1621.07,1298.3 1626.2,1300.5 C1631.33,1302.7 1641.62,1306.42 1644.7,1307.6" fill="none" stroke="#008000" stroke-width="4.5" stroke-linejoin="round" stroke-linecap="round"/>
<path d="M1215.6,1307.6 C1216.23,1306.17 1218.3,1303.6 1219.4,1299 C1220.5,1294.4 1221.25,1286.83 1222.2,1280 C1223.15,1273.17 1224.22,1265.5 1225.1,1258 C1225.98,1250.5 1226.55,1247.17 1227.5,1235 C1228.45,1222.83 1229.6,1200.9 1230.8,1185 C1232,1169.1 1233.38,1153.77 1234.7,1139.6 C1236.02,1125.43 1237.7,1111.75 1238.7,1100 C1239.7,1088.25 1239.95,1079.2 1240.7,1069.1 C1241.45,1059 1242.3,1050.97 1243.2,1039.4 C1244.1,1027.83 1245.03,1011.27 1246.1,999.7 C1247.17,988.13 1248.52,978.45 1249.6,970 C1250.68,961.55 1251.62,957.45 1252.6,949 C1253.58,940.55 1254.43,928.88 1255.5,919.3 C1256.57,909.72 1257.67,898.93 1259,891.5 C1260.33,884.07 1261.93,879.23 1263.5,874.7 C1265.07,870.17 1266.58,864.3 1268.4,864.3 C1270.22,864.3 1272.67,868.83 1274.4,874.7 C1276.13,880.57 1277.57,891.25 1278.8,899.5 C1280.03,907.75 1280.8,915.95 1281.8,924.2 C1282.8,932.45 1283.85,940.53 1284.8,949 C1285.75,957.47 1286.6,964.9 1287.5,975 C1288.4,985.1 1289.17,998.87 1290.2,1009.6 C1291.23,1020.33 1292.7,1029.48 1293.7,1039.4 C1294.7,1049.32 1295.4,1058.17 1296.2,1069.1 C1297,1080.03 1297.6,1093.25 1298.5,1105 C1299.4,1116.75 1300.5,1127.22 1301.6,1139.6 C1302.7,1151.98 1303.93,1167.73 1305.1,1179.3 C1306.27,1190.87 1307.53,1199.55 1308.6,1209 C1309.67,1218.45 1310.33,1228.18 1311.5,1236 C1312.67,1243.82 1313.95,1249.95 1315.6,1255.9 C1317.25,1261.85 1318.88,1268.15 1321.4,1271.7 C1323.92,1275.25 1326.68,1277.15 1330.7,1277.2 C1334.72,1277.25 1340.92,1274.67 1345.5,1272 C1350.08,1269.33 1353.95,1264.92 1358.2,1261.2 C1362.45,1257.48 1366.75,1253.63 1371,1249.7 C1375.25,1245.77 1379.47,1241.2 1383.7,1237.6 C1387.93,1234 1392.15,1231.17 1396.4,1228.1 C1400.65,1225.03 1404.95,1221.97 1409.2,1219.2 C1413.45,1216.43 1417.67,1213.83 1421.9,1211.5 C1426.13,1209.17 1430.35,1207.75 1434.6,1205.2 C1438.85,1202.65 1443.15,1199.18 1447.4,1196.2 C1451.65,1193.22 1455.85,1189.52 1460.1,1187.3 C1464.35,1185.08 1468.65,1183.53 1472.9,1182.9 C1477.15,1182.27 1481.37,1182.87 1485.6,1183.5 C1489.83,1184.13 1494.05,1185.22 1498.3,1186.7 C1502.55,1188.18 1506.85,1190.38 1511.1,1192.4 C1515.35,1194.42 1519.55,1196.67 1523.8,1198.8 C1528.05,1200.93 1531.85,1202.62 1536.6,1205.2 C1541.35,1207.78 1547.63,1211.75 1552.3,1214.3 C1556.97,1216.85 1560.5,1218.03 1564.6,1220.5 C1568.7,1222.97 1572.78,1225.62 1576.9,1229.1 C1581.02,1232.58 1585.18,1236.88 1589.3,1241.4 C1593.42,1245.92 1597.5,1251.68 1601.6,1256.2 C1605.7,1260.72 1609.8,1264.8 1613.9,1268.5 C1618,1272.2 1622.1,1275.42 1626.2,1278.4 C1630.3,1281.38 1634.4,1284.45 1638.5,1286.4 C1642.6,1288.35 1646.7,1289.18 1650.8,1290.1 C1654.9,1291.02 1658.98,1291.28 1663.1,1291.9 C1667.22,1292.52 1671.38,1293.28 1675.5,1293.8 C1679.62,1294.32 1683.7,1294.7 1687.8,1295 C1691.9,1295.3 1696,1295.08 1700.1,1295.6 C1704.2,1296.12 1708.3,1296.97 1712.4,1298.1 C1716.5,1299.23 1720.08,1300.82 1724.7,1302.4 C1729.32,1303.98 1737.53,1306.73 1740.1,1307.6" fill="none" stroke="#0a84ff" stroke-width="4.5" stroke-linejoin="round" stroke-linecap="round"/>
<path d="M1215.6,1308.4 C1216.58,1307.2 1220.03,1303.97 1221.5,1301.2 C1222.97,1298.43 1223.43,1295.75 1224.4,1291.8 C1225.37,1287.85 1226.35,1283.48 1227.3,1277.5 C1228.25,1271.52 1229.2,1263.08 1230.1,1255.9 C1231,1248.72 1231.68,1247.17 1232.7,1234.4 C1233.72,1221.63 1234.95,1195.1 1236.2,1179.3 C1237.45,1163.5 1238.88,1152.82 1240.2,1139.6 C1241.52,1126.38 1242.95,1110.1 1244.1,1100 C1245.25,1089.9 1246.02,1087.45 1247.1,1079 C1248.18,1070.55 1249.43,1059.2 1250.6,1049.3 C1251.77,1039.4 1252.95,1028.48 1254.1,1019.6 C1255.25,1010.72 1256.43,1002.82 1257.5,996 C1258.57,989.18 1259.33,984.13 1260.5,978.7 C1261.67,973.27 1263.02,966.53 1264.5,963.4 C1265.98,960.27 1267.67,959.17 1269.4,959.9 C1271.13,960.63 1273.5,964.45 1274.9,967.8 C1276.3,971.15 1276.9,975.5 1277.8,980 C1278.7,984.5 1279.22,988.2 1280.3,994.8 C1281.38,1001.4 1282.98,1010.52 1284.3,1019.6 C1285.62,1028.68 1287.05,1039.4 1288.2,1049.3 C1289.35,1059.2 1290.12,1068.88 1291.2,1079 C1292.28,1089.12 1293.62,1099.9 1294.7,1110 C1295.78,1120.1 1296.63,1128.05 1297.7,1139.6 C1298.77,1151.15 1299.87,1167.73 1301.1,1179.3 C1302.33,1190.87 1303.88,1201.88 1305.1,1209 C1306.32,1216.12 1307.25,1217.17 1308.4,1222 C1309.55,1226.83 1310.67,1232.95 1312,1238 C1313.33,1243.05 1314.83,1247.88 1316.4,1252.3 C1317.97,1256.72 1319.62,1261.48 1321.4,1264.5 C1323.18,1267.52 1324.95,1269.67 1327.1,1270.4 C1329.25,1271.13 1331.23,1270.85 1334.3,1268.9 C1337.37,1266.95 1341.52,1262.32 1345.5,1258.7 C1349.48,1255.08 1353.95,1251.45 1358.2,1247.2 C1362.45,1242.95 1366.75,1237.55 1371,1233.2 C1375.25,1228.85 1379.47,1224.72 1383.7,1221.1 C1387.93,1217.48 1392.15,1214.37 1396.4,1211.5 C1400.65,1208.63 1404.95,1205.92 1409.2,1203.9 C1413.45,1201.88 1417.67,1200.47 1421.9,1199.4 C1426.13,1198.33 1430.35,1198.03 1434.6,1197.5 C1438.85,1196.97 1443.15,1196.62 1447.4,1196.2 C1451.65,1195.78 1455.85,1195 1460.1,1195 C1464.35,1195 1468.65,1195.57 1472.9,1196.2 C1477.15,1196.83 1481.37,1197.95 1485.6,1198.8 C1489.83,1199.65 1494.05,1200.57 1498.3,1201.3 C1502.55,1202.03 1506.85,1202.67 1511.1,1203.2 C1515.35,1203.73 1519.32,1204.38 1523.8,1204.5 C1528.28,1204.62 1533.25,1204.15 1538,1203.9 C1542.75,1203.65 1547.87,1203.12 1552.3,1203 C1556.73,1202.88 1560.5,1202.33 1564.6,1203.2 C1568.7,1204.07 1572.78,1205.83 1576.9,1208.2 C1581.02,1210.57 1585.18,1214.33 1589.3,1217.4 C1593.42,1220.47 1597.5,1223.62 1601.6,1226.6 C1605.7,1229.58 1609.8,1232.42 1613.9,1235.3 C1618,1238.18 1622.1,1241.85 1626.2,1243.9 C1630.3,1245.95 1634.4,1246.68 1638.5,1247.6 C1642.6,1248.52 1646.7,1248.68 1650.8,1249.4 C1654.9,1250.12 1658.98,1250.87 1663.1,1251.9 C1667.22,1252.93 1671.38,1254.07 1675.5,1255.6 C1679.62,1257.13 1683.7,1259.25 1687.8,1261.1 C1691.9,1262.95 1696,1264.85 1700.1,1266.7 C1704.2,1268.55 1708.3,1270.77 1712.4,1272.2 C1716.5,1273.63 1720.6,1274.53 1724.7,1275.3 C1728.8,1276.07 1732.92,1276.12 1737,1276.8 C1741.08,1277.48 1745.62,1278.43 1749.2,1279.4 C1752.78,1280.37 1755.42,1281.3 1758.5,1282.6 C1761.58,1283.9 1764.63,1285.73 1767.7,1287.2 C1770.77,1288.67 1773.82,1290 1776.9,1291.4 C1779.98,1292.8 1783.12,1294.28 1786.2,1295.6 C1789.28,1296.92 1792.33,1298.38 1795.4,1299.3 C1798.47,1300.22 1801.52,1300.65 1804.6,1301.1 C1807.68,1301.55 1810.82,1301.77 1813.9,1302 C1816.98,1302.23 1820.03,1302.27 1823.1,1302.5 C1826.17,1302.73 1829.22,1303.02 1832.3,1303.4 C1835.38,1303.78 1838.52,1304.33 1841.6,1304.8 C1844.68,1305.27 1846.95,1305.67 1850.8,1306.2 C1854.65,1306.73 1862.38,1307.7 1864.7,1308" fill="none" stroke="#ff8000" stroke-width="4.5" stroke-linejoin="round" stroke-linecap="round"/>
<line x1="1215.6" y1="1307.6" x2="1915.2" y2="1307.6" stroke="#000000" stroke-width="4.5" stroke-linecap="butt"/>
<line x1="1215.6" y1="784.35" x2="1215.6" y2="1307.6" stroke="#000000" stroke-width="4.5" stroke-linecap="butt"/>
<line x1="1215.6" y1="1307.6" x2="1206" y2="1307.6" stroke="#000000" stroke-width="4.2" stroke-linecap="round"/>
<line x1="1215.6" y1="1249.75" x2="1210.5" y2="1249.75" stroke="#000000" stroke-width="4.2" stroke-linecap="round"/>
<line x1="1215.6" y1="1191.9" x2="1206" y2="1191.9" stroke="#000000" stroke-width="4.2" stroke-linecap="round"/>
<line x1="1215.6" y1="1134.05" x2="1210.5" y2="1134.05" stroke="#000000" stroke-width="4.2" stroke-linecap="round"/>
<line x1="1215.6" y1="1076.2" x2="1206" y2="1076.2" stroke="#000000" stroke-width="4.2" stroke-linecap="round"/>
<line x1="1215.6" y1="1018.35" x2="1210.5" y2="1018.35" stroke="#000000" stroke-width="4.2" stroke-linecap="round"/>
<line x1="1215.6" y1="960.5" x2="1206" y2="960.5" stroke="#000000" stroke-width="4.2" stroke-linecap="round"/>
<line x1="1215.6" y1="902.65" x2="1210.5" y2="902.65" stroke="#000000" stroke-width="4.2" stroke-linecap="round"/>
<line x1="1215.6" y1="844.8" x2="1206" y2="844.8" stroke="#000000" stroke-width="4.2" stroke-linecap="round"/>
<line x1="1215.6" y1="786.6" x2="1210.5" y2="786.6" stroke="#000000" stroke-width="4.2" stroke-linecap="round"/>
<line x1="1215.6" y1="1307.6" x2="1215.6" y2="1317.2" stroke="#000000" stroke-width="4.2" stroke-linecap="round"/>
<line x1="1273.9" y1="1307.6" x2="1273.9" y2="1312.7" stroke="#000000" stroke-width="4.2" stroke-linecap="round"/>
<line x1="1332.2" y1="1307.6" x2="1332.2" y2="1317.2" stroke="#000000" stroke-width="4.2" stroke-linecap="round"/>
<line x1="1390.5" y1="1307.6" x2="1390.5" y2="1312.7" stroke="#000000" stroke-width="4.2" stroke-linecap="round"/>
<line x1="1448.8" y1="1307.6" x2="1448.8" y2="1317.2" stroke="#000000" stroke-width="4.2" stroke-linecap="round"/>
<line x1="1507.1" y1="1307.6" x2="1507.1" y2="1312.7" stroke="#000000" stroke-width="4.2" stroke-linecap="round"/>
<line x1="1565.4" y1="1307.6" x2="1565.4" y2="1317.2" stroke="#000000" stroke-width="4.2" stroke-linecap="round"/>
<line x1="1623.7" y1="1307.6" x2="1623.7" y2="1312.7" stroke="#000000" stroke-width="4.2" stroke-linecap="round"/>
<line x1="1682" y1="1307.6" x2="1682" y2="1317.2" stroke="#000000" stroke-width="4.2" stroke-linecap="round"/>
<line x1="1740.3" y1="1307.6" x2="1740.3" y2="1312.7" stroke="#000000" stroke-width="4.2" stroke-linecap="round"/>
<line x1="1798.6" y1="1307.6" x2="1798.6" y2="1317.2" stroke="#000000" stroke-width="4.2" stroke-linecap="round"/>
<line x1="1856.9" y1="1307.6" x2="1856.9" y2="1312.7" stroke="#000000" stroke-width="4.2" stroke-linecap="round"/>
<line x1="1915.2" y1="1307.6" x2="1915.2" y2="1317.2" stroke="#000000" stroke-width="4.2" stroke-linecap="round"/>
<text x="1129.61" y="1318.25" font-size="35.66" letter-spacing="0.99" fill="#000000">0.00</text>
<text x="1129.61" y="1202.55" font-size="35.66" letter-spacing="1.03" fill="#000000">0.05</text>
<text x="1129.61" y="1086.85" font-size="35.66" letter-spacing="0.99" fill="#000000">0.10</text>
<text x="1129.61" y="971.15" font-size="35.66" letter-spacing="1.03" fill="#000000">0.15</text>
<text x="1129.61" y="855.45" font-size="35.66" letter-spacing="0.99" fill="#000000">0.20</text>
<text x="1207.77" y="1351.8" font-size="35.23" letter-spacing="0" fill="#000000">0</text>
<text x="1306.42" y="1351.8" font-size="35.23" letter-spacing="0.84" fill="#000000">100</text>
<text x="1421.93" y="1351.8" font-size="35.23" letter-spacing="1.18" fill="#000000">200</text>
<text x="1538.96" y="1351.8" font-size="35.23" letter-spacing="0.97" fill="#000000">300</text>
<text x="1656.09" y="1351.8" font-size="35.23" letter-spacing="0.7" fill="#000000">400</text>
<text x="1772.09" y="1351.8" font-size="35.23" letter-spacing="1" fill="#000000">500</text>
<text x="1888.31" y="1351.8" font-size="35.23" letter-spacing="1.19" fill="#000000">600</text>
<text transform="rotate(-90)" x="-1168.79" y="1104.9" font-size="46.22" letter-spacing="1.08" fill="#000000">P(r) [a.u.]</text>
<text x="1527.33" y="1403.5" font-size="43.2" letter-spacing="0.31" fill="#000000">r [Å]</text>
<line x1="1680.5" y1="834.5" x2="1745.6" y2="834.5" stroke="#008000" stroke-width="5" stroke-linecap="round"/>
<text x="1756.96" y="844.5" font-size="33.43" letter-spacing="1.43" fill="#000000">Dimer-I</text>
<line x1="1680.5" y1="870.5" x2="1745.6" y2="870.5" stroke="#0a84ff" stroke-width="5" stroke-linecap="round"/>
<text x="1756.96" y="880.5" font-size="33.43" letter-spacing="1.38" fill="#000000">Dimer-II</text>
<line x1="1680.5" y1="906.5" x2="1745.6" y2="906.5" stroke="#ff8000" stroke-width="5" stroke-linecap="round"/>
<text x="1756.96" y="916.5" font-size="33.43" letter-spacing="1.45" fill="#000000">Dimer-III</text>
</g></svg></body></html>
